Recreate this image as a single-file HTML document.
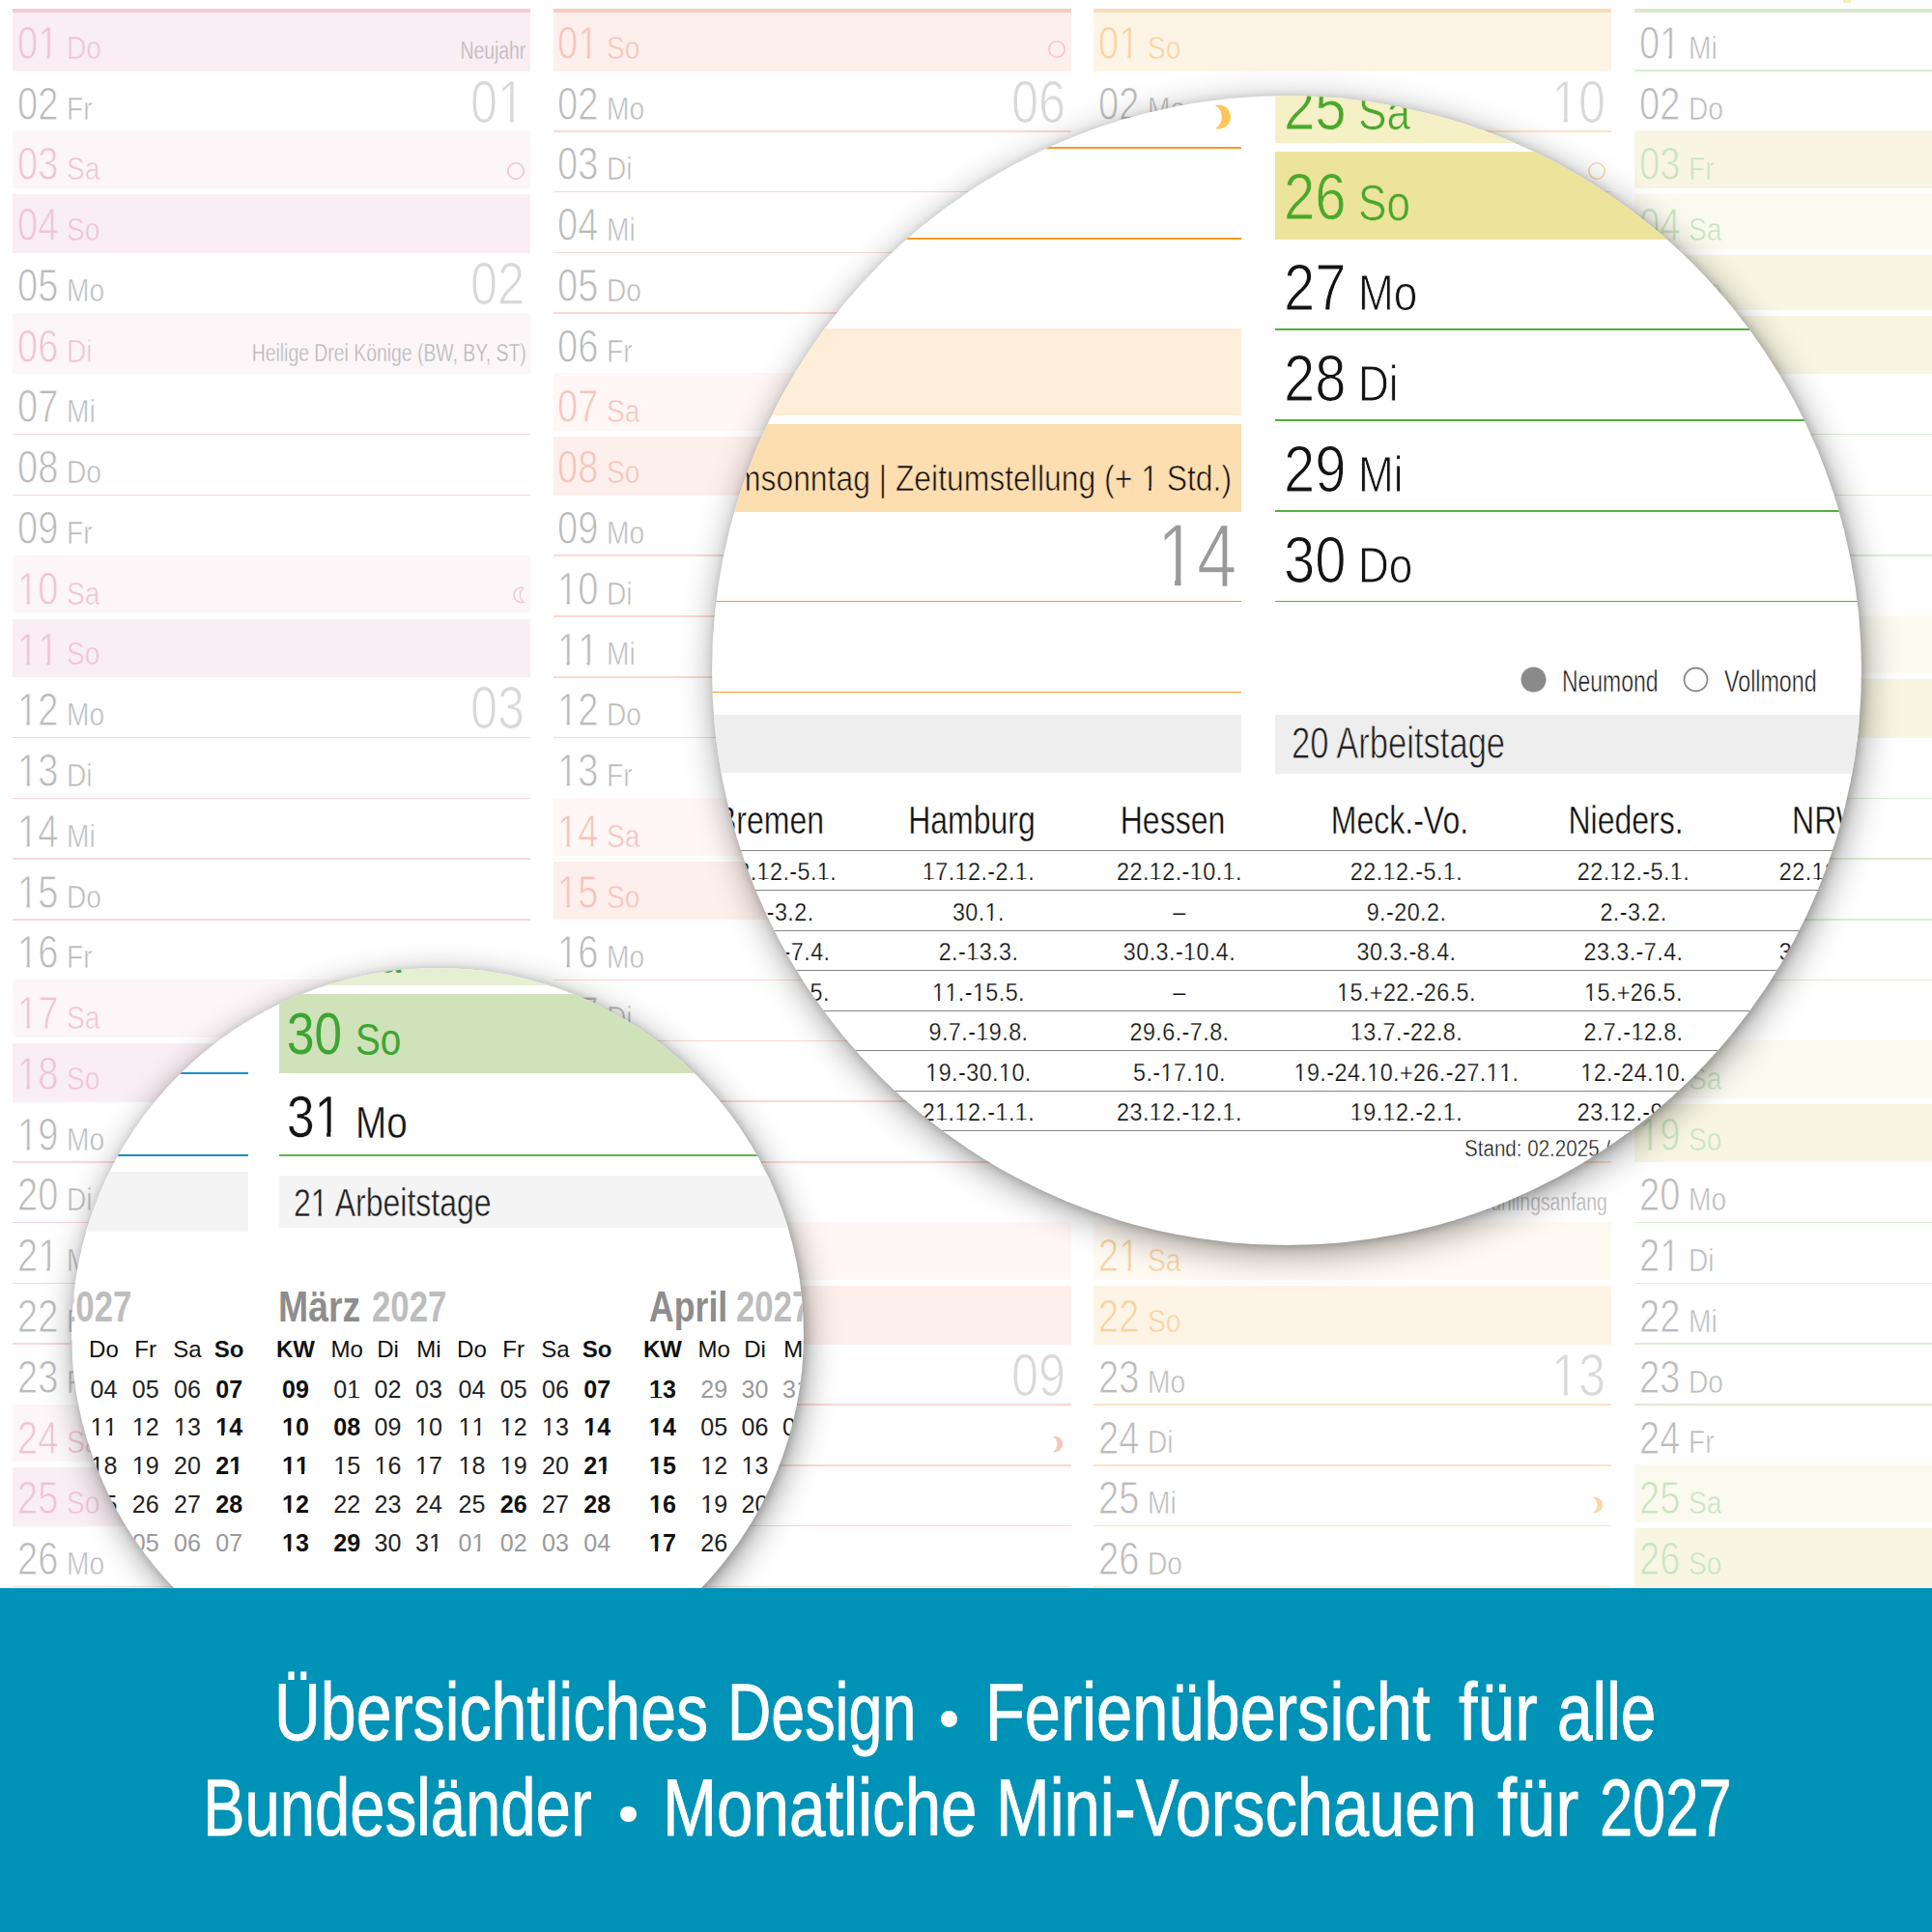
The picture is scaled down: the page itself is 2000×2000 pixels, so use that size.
<!DOCTYPE html><html><head><meta charset="utf-8"><style>
html,body{margin:0;padding:0;}
body{width:2000px;height:2000px;position:relative;overflow:hidden;background:#fff;font-family:"Liberation Sans",sans-serif;}
.t{position:absolute;white-space:nowrap;transform-origin:0 0;}
.z{position:absolute;width:0;height:0;}
.r{position:absolute;}
.one{position:relative;}
.one b{position:absolute;display:block;}
.o1{left:0.05em;width:0.198em;bottom:0.205em;height:0.09em;}
.o2{left:0.337em;width:0.2em;bottom:0.205em;height:0.09em;}
.o1b{left:0.04em;width:0.188em;bottom:0.205em;height:0.115em;}
.o2b{left:0.367em;width:0.19em;bottom:0.205em;height:0.115em;}
.circ{position:absolute;border-radius:50%;overflow:hidden;background:#fff;}
.banner{position:absolute;left:0;top:1644px;width:2000px;height:356px;background:#0092b7;}
</style></head><body>

<div id="base">
<div class="r" style="left:1908.0px;top:0.0px;width:8.0px;height:2.5px;background:#eef2b8;"></div>
<div class="r" style="left:13.0px;top:9.0px;width:536.0px;height:4.0px;background:#f5cad8;"></div>
<div class="r" style="left:13.0px;top:13.0px;width:536.0px;height:60.6px;background:#f9eef3;"></div>
<div class="t" style="left:17.5px;top:20.8px;font-size:47.5px;line-height:47.5px;color:#f0c3d3;font-weight:normal;transform:scaleX(0.8);-webkit-text-stroke:0.9px #f9eef3">0<span class="one">1<b class="o1" style="background:#f9eef3"></b><b class="o2" style="background:#f9eef3"></b></span></div>
<div class="t" style="left:68.5px;top:32.7px;font-size:33.5px;line-height:33.5px;color:#f0c3d3;font-weight:normal;transform:scaleX(0.84);-webkit-text-stroke:0.6px #f9eef3">Do</div>
<div class="z" style="left:544.5px;top:39.5px;"><div class="t" style="right:0;top:0;font-size:25.5px;line-height:25.5px;color:#b5b5b5;font-weight:normal;transform:scaleX(0.76);transform-origin:100% 0;-webkit-text-stroke:0.4px #f9eef3">Neujahr</div></div>
<div class="t" style="left:17.5px;top:83.5px;font-size:47.5px;line-height:47.5px;color:#bbbbbb;font-weight:normal;transform:scaleX(0.8);-webkit-text-stroke:0.9px #ffffff">02</div>
<div class="t" style="left:68.5px;top:95.5px;font-size:33.5px;line-height:33.5px;color:#bbbbbb;font-weight:normal;transform:scaleX(0.84);-webkit-text-stroke:0.6px #ffffff">Fr</div>
<div class="z" style="left:543.0px;top:73.5px;"><div class="t" style="right:0;top:0;font-size:63.0px;line-height:63.0px;color:#d9d9d9;font-weight:normal;transform:scaleX(0.8);transform-origin:100% 0;-webkit-text-stroke:1.2px #ffffff">0<span class="one">1<b class="o1" style="background:#ffffff"></b><b class="o2" style="background:#ffffff"></b></span></div></div>
<div class="r" style="left:13.0px;top:135.3px;width:536.0px;height:59.8px;background:#fcf6f8;"></div>
<div class="t" style="left:17.5px;top:146.3px;font-size:47.5px;line-height:47.5px;color:#f0c3d3;font-weight:normal;transform:scaleX(0.8);-webkit-text-stroke:0.9px #fcf6f8">03</div>
<div class="t" style="left:68.5px;top:158.3px;font-size:33.5px;line-height:33.5px;color:#f0c3d3;font-weight:normal;transform:scaleX(0.84);-webkit-text-stroke:0.6px #fcf6f8">Sa</div>
<svg class="r" style="left:524.0px;top:166.6px" width="20" height="20"><circle cx="10.0" cy="10.0" r="8.2" fill="none" stroke="#efc2d2" stroke-width="1.6"/></svg>
<div class="r" style="left:13.0px;top:201.1px;width:536.0px;height:60.8px;background:#f9eef3;"></div>
<div class="t" style="left:17.5px;top:209.1px;font-size:47.5px;line-height:47.5px;color:#f0c3d3;font-weight:normal;transform:scaleX(0.8);-webkit-text-stroke:0.9px #f9eef3">04</div>
<div class="t" style="left:68.5px;top:221.0px;font-size:33.5px;line-height:33.5px;color:#f0c3d3;font-weight:normal;transform:scaleX(0.84);-webkit-text-stroke:0.6px #f9eef3">So</div>
<div class="t" style="left:17.5px;top:271.8px;font-size:47.5px;line-height:47.5px;color:#bbbbbb;font-weight:normal;transform:scaleX(0.8);-webkit-text-stroke:0.9px #ffffff">05</div>
<div class="t" style="left:68.5px;top:283.8px;font-size:33.5px;line-height:33.5px;color:#bbbbbb;font-weight:normal;transform:scaleX(0.84);-webkit-text-stroke:0.6px #ffffff">Mo</div>
<div class="z" style="left:543.0px;top:261.8px;"><div class="t" style="right:0;top:0;font-size:63.0px;line-height:63.0px;color:#d9d9d9;font-weight:normal;transform:scaleX(0.8);transform-origin:100% 0;-webkit-text-stroke:1.2px #ffffff">02</div></div>
<div class="r" style="left:13.0px;top:323.7px;width:536.0px;height:63.8px;background:#fcf6f8;"></div>
<div class="t" style="left:17.5px;top:334.6px;font-size:47.5px;line-height:47.5px;color:#f0c3d3;font-weight:normal;transform:scaleX(0.8);-webkit-text-stroke:0.9px #fcf6f8">06</div>
<div class="t" style="left:68.5px;top:346.6px;font-size:33.5px;line-height:33.5px;color:#f0c3d3;font-weight:normal;transform:scaleX(0.84);-webkit-text-stroke:0.6px #fcf6f8">Di</div>
<div class="z" style="left:544.5px;top:353.3px;"><div class="t" style="right:0;top:0;font-size:25.5px;line-height:25.5px;color:#b5b5b5;font-weight:normal;transform:scaleX(0.76);transform-origin:100% 0;-webkit-text-stroke:0.4px #fcf6f8">Heilige Drei Könige (BW, BY, ST)</div></div>
<div class="r" style="left:13.0px;top:448.9px;width:536.0px;height:1.6px;background:#f7d6e1;"></div>
<div class="t" style="left:17.5px;top:397.4px;font-size:47.5px;line-height:47.5px;color:#bbbbbb;font-weight:normal;transform:scaleX(0.8);-webkit-text-stroke:0.9px #ffffff">07</div>
<div class="t" style="left:68.5px;top:409.3px;font-size:33.5px;line-height:33.5px;color:#bbbbbb;font-weight:normal;transform:scaleX(0.84);-webkit-text-stroke:0.6px #ffffff">Mi</div>
<div class="r" style="left:13.0px;top:511.7px;width:536.0px;height:1.6px;background:#f7d6e1;"></div>
<div class="t" style="left:17.5px;top:460.1px;font-size:47.5px;line-height:47.5px;color:#bbbbbb;font-weight:normal;transform:scaleX(0.8);-webkit-text-stroke:0.9px #ffffff">08</div>
<div class="t" style="left:68.5px;top:472.1px;font-size:33.5px;line-height:33.5px;color:#bbbbbb;font-weight:normal;transform:scaleX(0.84);-webkit-text-stroke:0.6px #ffffff">Do</div>
<div class="t" style="left:17.5px;top:522.9px;font-size:47.5px;line-height:47.5px;color:#bbbbbb;font-weight:normal;transform:scaleX(0.8);-webkit-text-stroke:0.9px #ffffff">09</div>
<div class="t" style="left:68.5px;top:534.9px;font-size:33.5px;line-height:33.5px;color:#bbbbbb;font-weight:normal;transform:scaleX(0.84);-webkit-text-stroke:0.6px #ffffff">Fr</div>
<div class="r" style="left:13.0px;top:574.7px;width:536.0px;height:59.8px;background:#fcf6f8;"></div>
<div class="t" style="left:17.5px;top:585.7px;font-size:47.5px;line-height:47.5px;color:#f0c3d3;font-weight:normal;transform:scaleX(0.8);-webkit-text-stroke:0.9px #fcf6f8"><span class="one">1<b class="o1" style="background:#fcf6f8"></b><b class="o2" style="background:#fcf6f8"></b></span>0</div>
<div class="t" style="left:68.5px;top:597.7px;font-size:33.5px;line-height:33.5px;color:#f0c3d3;font-weight:normal;transform:scaleX(0.84);-webkit-text-stroke:0.6px #fcf6f8">Sa</div>
<svg class="r" style="left:528.0px;top:606.0px" width="20" height="20" viewBox="0 0 20 20"><path d="M14 2.5 A7.8 7.8 0 1 0 14 17.5 A9.5 9.5 0 0 1 14 2.5 Z" fill="none" stroke="#efc2d2" stroke-width="1.2"/></svg>
<div class="r" style="left:13.0px;top:640.5px;width:536.0px;height:60.8px;background:#f9eef3;"></div>
<div class="t" style="left:17.5px;top:648.5px;font-size:47.5px;line-height:47.5px;color:#f0c3d3;font-weight:normal;transform:scaleX(0.8);-webkit-text-stroke:0.9px #f9eef3"><span class="one">1<b class="o1" style="background:#f9eef3"></b><b class="o2" style="background:#f9eef3"></b></span><span class="one">1<b class="o1" style="background:#f9eef3"></b><b class="o2" style="background:#f9eef3"></b></span></div>
<div class="t" style="left:68.5px;top:660.4px;font-size:33.5px;line-height:33.5px;color:#f0c3d3;font-weight:normal;transform:scaleX(0.84);-webkit-text-stroke:0.6px #f9eef3">So</div>
<div class="r" style="left:13.0px;top:762.7px;width:536.0px;height:1.6px;background:#f7d6e1;"></div>
<div class="t" style="left:17.5px;top:711.2px;font-size:47.5px;line-height:47.5px;color:#bbbbbb;font-weight:normal;transform:scaleX(0.8);-webkit-text-stroke:0.9px #ffffff"><span class="one">1<b class="o1" style="background:#ffffff"></b><b class="o2" style="background:#ffffff"></b></span>2</div>
<div class="t" style="left:68.5px;top:723.2px;font-size:33.5px;line-height:33.5px;color:#bbbbbb;font-weight:normal;transform:scaleX(0.84);-webkit-text-stroke:0.6px #ffffff">Mo</div>
<div class="z" style="left:543.0px;top:701.2px;"><div class="t" style="right:0;top:0;font-size:63.0px;line-height:63.0px;color:#d9d9d9;font-weight:normal;transform:scaleX(0.8);transform-origin:100% 0;-webkit-text-stroke:1.2px #ffffff">03</div></div>
<div class="r" style="left:13.0px;top:825.5px;width:536.0px;height:1.6px;background:#f7d6e1;"></div>
<div class="t" style="left:17.5px;top:774.0px;font-size:47.5px;line-height:47.5px;color:#bbbbbb;font-weight:normal;transform:scaleX(0.8);-webkit-text-stroke:0.9px #ffffff"><span class="one">1<b class="o1" style="background:#ffffff"></b><b class="o2" style="background:#ffffff"></b></span>3</div>
<div class="t" style="left:68.5px;top:786.0px;font-size:33.5px;line-height:33.5px;color:#bbbbbb;font-weight:normal;transform:scaleX(0.84);-webkit-text-stroke:0.6px #ffffff">Di</div>
<div class="r" style="left:13.0px;top:888.3px;width:536.0px;height:1.6px;background:#f7d6e1;"></div>
<div class="t" style="left:17.5px;top:836.8px;font-size:47.5px;line-height:47.5px;color:#bbbbbb;font-weight:normal;transform:scaleX(0.8);-webkit-text-stroke:0.9px #ffffff"><span class="one">1<b class="o1" style="background:#ffffff"></b><b class="o2" style="background:#ffffff"></b></span>4</div>
<div class="t" style="left:68.5px;top:848.7px;font-size:33.5px;line-height:33.5px;color:#bbbbbb;font-weight:normal;transform:scaleX(0.84);-webkit-text-stroke:0.6px #ffffff">Mi</div>
<div class="r" style="left:13.0px;top:951.1px;width:536.0px;height:1.6px;background:#f7d6e1;"></div>
<div class="t" style="left:17.5px;top:899.5px;font-size:47.5px;line-height:47.5px;color:#bbbbbb;font-weight:normal;transform:scaleX(0.8);-webkit-text-stroke:0.9px #ffffff"><span class="one">1<b class="o1" style="background:#ffffff"></b><b class="o2" style="background:#ffffff"></b></span>5</div>
<div class="t" style="left:68.5px;top:911.5px;font-size:33.5px;line-height:33.5px;color:#bbbbbb;font-weight:normal;transform:scaleX(0.84);-webkit-text-stroke:0.6px #ffffff">Do</div>
<div class="t" style="left:17.5px;top:962.3px;font-size:47.5px;line-height:47.5px;color:#bbbbbb;font-weight:normal;transform:scaleX(0.8);-webkit-text-stroke:0.9px #ffffff"><span class="one">1<b class="o1" style="background:#ffffff"></b><b class="o2" style="background:#ffffff"></b></span>6</div>
<div class="t" style="left:68.5px;top:974.3px;font-size:33.5px;line-height:33.5px;color:#bbbbbb;font-weight:normal;transform:scaleX(0.84);-webkit-text-stroke:0.6px #ffffff">Fr</div>
<div class="r" style="left:13.0px;top:1014.1px;width:536.0px;height:59.8px;background:#fcf6f8;"></div>
<div class="t" style="left:17.5px;top:1025.1px;font-size:47.5px;line-height:47.5px;color:#f0c3d3;font-weight:normal;transform:scaleX(0.8);-webkit-text-stroke:0.9px #fcf6f8"><span class="one">1<b class="o1" style="background:#fcf6f8"></b><b class="o2" style="background:#fcf6f8"></b></span>7</div>
<div class="t" style="left:68.5px;top:1037.0px;font-size:33.5px;line-height:33.5px;color:#f0c3d3;font-weight:normal;transform:scaleX(0.84);-webkit-text-stroke:0.6px #fcf6f8">Sa</div>
<div class="r" style="left:13.0px;top:1079.9px;width:536.0px;height:60.8px;background:#f9eef3;"></div>
<div class="t" style="left:17.5px;top:1087.8px;font-size:47.5px;line-height:47.5px;color:#f0c3d3;font-weight:normal;transform:scaleX(0.8);-webkit-text-stroke:0.9px #f9eef3"><span class="one">1<b class="o1" style="background:#f9eef3"></b><b class="o2" style="background:#f9eef3"></b></span>8</div>
<div class="t" style="left:68.5px;top:1099.8px;font-size:33.5px;line-height:33.5px;color:#f0c3d3;font-weight:normal;transform:scaleX(0.84);-webkit-text-stroke:0.6px #f9eef3">So</div>
<svg class="r" style="left:524.0px;top:1108.2px" width="20" height="20"><circle cx="10.0" cy="10.0" r="8.2" fill="#efc2d2"/></svg>
<div class="r" style="left:13.0px;top:1202.1px;width:536.0px;height:1.6px;background:#f7d6e1;"></div>
<div class="t" style="left:17.5px;top:1150.6px;font-size:47.5px;line-height:47.5px;color:#bbbbbb;font-weight:normal;transform:scaleX(0.8);-webkit-text-stroke:0.9px #ffffff"><span class="one">1<b class="o1" style="background:#ffffff"></b><b class="o2" style="background:#ffffff"></b></span>9</div>
<div class="t" style="left:68.5px;top:1162.6px;font-size:33.5px;line-height:33.5px;color:#bbbbbb;font-weight:normal;transform:scaleX(0.84);-webkit-text-stroke:0.6px #ffffff">Mo</div>
<div class="z" style="left:543.0px;top:1140.6px;"><div class="t" style="right:0;top:0;font-size:63.0px;line-height:63.0px;color:#d9d9d9;font-weight:normal;transform:scaleX(0.8);transform-origin:100% 0;-webkit-text-stroke:1.2px #ffffff">04</div></div>
<div class="r" style="left:13.0px;top:1264.9px;width:536.0px;height:1.6px;background:#f7d6e1;"></div>
<div class="t" style="left:17.5px;top:1213.4px;font-size:47.5px;line-height:47.5px;color:#bbbbbb;font-weight:normal;transform:scaleX(0.8);-webkit-text-stroke:0.9px #ffffff">20</div>
<div class="t" style="left:68.5px;top:1225.4px;font-size:33.5px;line-height:33.5px;color:#bbbbbb;font-weight:normal;transform:scaleX(0.84);-webkit-text-stroke:0.6px #ffffff">Di</div>
<div class="r" style="left:13.0px;top:1327.7px;width:536.0px;height:1.6px;background:#f7d6e1;"></div>
<div class="t" style="left:17.5px;top:1276.2px;font-size:47.5px;line-height:47.5px;color:#bbbbbb;font-weight:normal;transform:scaleX(0.8);-webkit-text-stroke:0.9px #ffffff">2<span class="one">1<b class="o1" style="background:#ffffff"></b><b class="o2" style="background:#ffffff"></b></span></div>
<div class="t" style="left:68.5px;top:1288.1px;font-size:33.5px;line-height:33.5px;color:#bbbbbb;font-weight:normal;transform:scaleX(0.84);-webkit-text-stroke:0.6px #ffffff">Mi</div>
<div class="r" style="left:13.0px;top:1390.4px;width:536.0px;height:1.6px;background:#f7d6e1;"></div>
<div class="t" style="left:17.5px;top:1338.9px;font-size:47.5px;line-height:47.5px;color:#bbbbbb;font-weight:normal;transform:scaleX(0.8);-webkit-text-stroke:0.9px #ffffff">22</div>
<div class="t" style="left:68.5px;top:1350.9px;font-size:33.5px;line-height:33.5px;color:#bbbbbb;font-weight:normal;transform:scaleX(0.84);-webkit-text-stroke:0.6px #ffffff">Do</div>
<div class="t" style="left:17.5px;top:1401.7px;font-size:47.5px;line-height:47.5px;color:#bbbbbb;font-weight:normal;transform:scaleX(0.8);-webkit-text-stroke:0.9px #ffffff">23</div>
<div class="t" style="left:68.5px;top:1413.7px;font-size:33.5px;line-height:33.5px;color:#bbbbbb;font-weight:normal;transform:scaleX(0.84);-webkit-text-stroke:0.6px #ffffff">Fr</div>
<div class="r" style="left:13.0px;top:1453.5px;width:536.0px;height:59.8px;background:#fcf6f8;"></div>
<div class="t" style="left:17.5px;top:1464.5px;font-size:47.5px;line-height:47.5px;color:#f0c3d3;font-weight:normal;transform:scaleX(0.8);-webkit-text-stroke:0.9px #fcf6f8">24</div>
<div class="t" style="left:68.5px;top:1476.4px;font-size:33.5px;line-height:33.5px;color:#f0c3d3;font-weight:normal;transform:scaleX(0.84);-webkit-text-stroke:0.6px #fcf6f8">Sa</div>
<div class="r" style="left:13.0px;top:1519.3px;width:536.0px;height:60.8px;background:#f9eef3;"></div>
<div class="t" style="left:17.5px;top:1527.2px;font-size:47.5px;line-height:47.5px;color:#f0c3d3;font-weight:normal;transform:scaleX(0.8);-webkit-text-stroke:0.9px #f9eef3">25</div>
<div class="t" style="left:68.5px;top:1539.2px;font-size:33.5px;line-height:33.5px;color:#f0c3d3;font-weight:normal;transform:scaleX(0.84);-webkit-text-stroke:0.6px #f9eef3">So</div>
<div class="r" style="left:13.0px;top:1641.5px;width:536.0px;height:1.6px;background:#f7d6e1;"></div>
<div class="t" style="left:17.5px;top:1590.0px;font-size:47.5px;line-height:47.5px;color:#bbbbbb;font-weight:normal;transform:scaleX(0.8);-webkit-text-stroke:0.9px #ffffff">26</div>
<div class="t" style="left:68.5px;top:1602.0px;font-size:33.5px;line-height:33.5px;color:#bbbbbb;font-weight:normal;transform:scaleX(0.84);-webkit-text-stroke:0.6px #ffffff">Mo</div>
<div class="z" style="left:543.0px;top:1580.0px;"><div class="t" style="right:0;top:0;font-size:63.0px;line-height:63.0px;color:#d9d9d9;font-weight:normal;transform:scaleX(0.8);transform-origin:100% 0;-webkit-text-stroke:1.2px #ffffff">05</div></div>
<svg class="r" style="left:524.0px;top:1610.3px" width="20" height="20" viewBox="0 0 20 20"><path d="M6 2 A8.2 8.2 0 1 1 6 18 A9.5 9.5 0 0 0 6 2 Z" fill="#efc2d2"/></svg>
<div class="r" style="left:572.7px;top:9.0px;width:536.0px;height:4.0px;background:#f8cac4;"></div>
<div class="r" style="left:572.7px;top:13.0px;width:536.0px;height:60.6px;background:#fdefec;"></div>
<div class="t" style="left:577.2px;top:20.8px;font-size:47.5px;line-height:47.5px;color:#f5c3ba;font-weight:normal;transform:scaleX(0.8);-webkit-text-stroke:0.9px #fdefec">0<span class="one">1<b class="o1" style="background:#fdefec"></b><b class="o2" style="background:#fdefec"></b></span></div>
<div class="t" style="left:628.2px;top:32.7px;font-size:33.5px;line-height:33.5px;color:#f5c3ba;font-weight:normal;transform:scaleX(0.84);-webkit-text-stroke:0.6px #fdefec">So</div>
<svg class="r" style="left:1083.7px;top:41.1px" width="20" height="20"><circle cx="10.0" cy="10.0" r="8.2" fill="none" stroke="#f6c7bc" stroke-width="1.6"/></svg>
<div class="r" style="left:572.7px;top:135.0px;width:536.0px;height:1.6px;background:#fad9d1;"></div>
<div class="t" style="left:577.2px;top:83.5px;font-size:47.5px;line-height:47.5px;color:#bbbbbb;font-weight:normal;transform:scaleX(0.8);-webkit-text-stroke:0.9px #ffffff">02</div>
<div class="t" style="left:628.2px;top:95.5px;font-size:33.5px;line-height:33.5px;color:#bbbbbb;font-weight:normal;transform:scaleX(0.84);-webkit-text-stroke:0.6px #ffffff">Mo</div>
<div class="z" style="left:1102.7px;top:73.5px;"><div class="t" style="right:0;top:0;font-size:63.0px;line-height:63.0px;color:#d9d9d9;font-weight:normal;transform:scaleX(0.8);transform-origin:100% 0;-webkit-text-stroke:1.2px #ffffff">06</div></div>
<div class="r" style="left:572.7px;top:197.8px;width:536.0px;height:1.6px;background:#fad9d1;"></div>
<div class="t" style="left:577.2px;top:146.3px;font-size:47.5px;line-height:47.5px;color:#bbbbbb;font-weight:normal;transform:scaleX(0.8);-webkit-text-stroke:0.9px #ffffff">03</div>
<div class="t" style="left:628.2px;top:158.3px;font-size:33.5px;line-height:33.5px;color:#bbbbbb;font-weight:normal;transform:scaleX(0.84);-webkit-text-stroke:0.6px #ffffff">Di</div>
<div class="r" style="left:572.7px;top:260.6px;width:536.0px;height:1.6px;background:#fad9d1;"></div>
<div class="t" style="left:577.2px;top:209.1px;font-size:47.5px;line-height:47.5px;color:#bbbbbb;font-weight:normal;transform:scaleX(0.8);-webkit-text-stroke:0.9px #ffffff">04</div>
<div class="t" style="left:628.2px;top:221.0px;font-size:33.5px;line-height:33.5px;color:#bbbbbb;font-weight:normal;transform:scaleX(0.84);-webkit-text-stroke:0.6px #ffffff">Mi</div>
<div class="r" style="left:572.7px;top:323.4px;width:536.0px;height:1.6px;background:#fad9d1;"></div>
<div class="t" style="left:577.2px;top:271.8px;font-size:47.5px;line-height:47.5px;color:#bbbbbb;font-weight:normal;transform:scaleX(0.8);-webkit-text-stroke:0.9px #ffffff">05</div>
<div class="t" style="left:628.2px;top:283.8px;font-size:33.5px;line-height:33.5px;color:#bbbbbb;font-weight:normal;transform:scaleX(0.84);-webkit-text-stroke:0.6px #ffffff">Do</div>
<div class="t" style="left:577.2px;top:334.6px;font-size:47.5px;line-height:47.5px;color:#bbbbbb;font-weight:normal;transform:scaleX(0.8);-webkit-text-stroke:0.9px #ffffff">06</div>
<div class="t" style="left:628.2px;top:346.6px;font-size:33.5px;line-height:33.5px;color:#bbbbbb;font-weight:normal;transform:scaleX(0.84);-webkit-text-stroke:0.6px #ffffff">Fr</div>
<div class="r" style="left:572.7px;top:386.4px;width:536.0px;height:59.8px;background:#fef7f5;"></div>
<div class="t" style="left:577.2px;top:397.4px;font-size:47.5px;line-height:47.5px;color:#f5c3ba;font-weight:normal;transform:scaleX(0.8);-webkit-text-stroke:0.9px #fef7f5">07</div>
<div class="t" style="left:628.2px;top:409.3px;font-size:33.5px;line-height:33.5px;color:#f5c3ba;font-weight:normal;transform:scaleX(0.84);-webkit-text-stroke:0.6px #fef7f5">Sa</div>
<div class="r" style="left:572.7px;top:452.2px;width:536.0px;height:60.8px;background:#fdefec;"></div>
<div class="t" style="left:577.2px;top:460.1px;font-size:47.5px;line-height:47.5px;color:#f5c3ba;font-weight:normal;transform:scaleX(0.8);-webkit-text-stroke:0.9px #fdefec">08</div>
<div class="t" style="left:628.2px;top:472.1px;font-size:33.5px;line-height:33.5px;color:#f5c3ba;font-weight:normal;transform:scaleX(0.84);-webkit-text-stroke:0.6px #fdefec">So</div>
<div class="r" style="left:572.7px;top:574.4px;width:536.0px;height:1.6px;background:#fad9d1;"></div>
<div class="t" style="left:577.2px;top:522.9px;font-size:47.5px;line-height:47.5px;color:#bbbbbb;font-weight:normal;transform:scaleX(0.8);-webkit-text-stroke:0.9px #ffffff">09</div>
<div class="t" style="left:628.2px;top:534.9px;font-size:33.5px;line-height:33.5px;color:#bbbbbb;font-weight:normal;transform:scaleX(0.84);-webkit-text-stroke:0.6px #ffffff">Mo</div>
<div class="z" style="left:1102.7px;top:512.9px;"><div class="t" style="right:0;top:0;font-size:63.0px;line-height:63.0px;color:#d9d9d9;font-weight:normal;transform:scaleX(0.8);transform-origin:100% 0;-webkit-text-stroke:1.2px #ffffff">07</div></div>
<svg class="r" style="left:1087.7px;top:543.2px" width="20" height="20" viewBox="0 0 20 20"><path d="M14 2.5 A7.8 7.8 0 1 0 14 17.5 A9.5 9.5 0 0 1 14 2.5 Z" fill="none" stroke="#f6c7bc" stroke-width="1.2"/></svg>
<div class="r" style="left:572.7px;top:637.2px;width:536.0px;height:1.6px;background:#fad9d1;"></div>
<div class="t" style="left:577.2px;top:585.7px;font-size:47.5px;line-height:47.5px;color:#bbbbbb;font-weight:normal;transform:scaleX(0.8);-webkit-text-stroke:0.9px #ffffff"><span class="one">1<b class="o1" style="background:#ffffff"></b><b class="o2" style="background:#ffffff"></b></span>0</div>
<div class="t" style="left:628.2px;top:597.7px;font-size:33.5px;line-height:33.5px;color:#bbbbbb;font-weight:normal;transform:scaleX(0.84);-webkit-text-stroke:0.6px #ffffff">Di</div>
<div class="r" style="left:572.7px;top:700.0px;width:536.0px;height:1.6px;background:#fad9d1;"></div>
<div class="t" style="left:577.2px;top:648.5px;font-size:47.5px;line-height:47.5px;color:#bbbbbb;font-weight:normal;transform:scaleX(0.8);-webkit-text-stroke:0.9px #ffffff"><span class="one">1<b class="o1" style="background:#ffffff"></b><b class="o2" style="background:#ffffff"></b></span><span class="one">1<b class="o1" style="background:#ffffff"></b><b class="o2" style="background:#ffffff"></b></span></div>
<div class="t" style="left:628.2px;top:660.4px;font-size:33.5px;line-height:33.5px;color:#bbbbbb;font-weight:normal;transform:scaleX(0.84);-webkit-text-stroke:0.6px #ffffff">Mi</div>
<div class="r" style="left:572.7px;top:762.7px;width:536.0px;height:1.6px;background:#fad9d1;"></div>
<div class="t" style="left:577.2px;top:711.2px;font-size:47.5px;line-height:47.5px;color:#bbbbbb;font-weight:normal;transform:scaleX(0.8);-webkit-text-stroke:0.9px #ffffff"><span class="one">1<b class="o1" style="background:#ffffff"></b><b class="o2" style="background:#ffffff"></b></span>2</div>
<div class="t" style="left:628.2px;top:723.2px;font-size:33.5px;line-height:33.5px;color:#bbbbbb;font-weight:normal;transform:scaleX(0.84);-webkit-text-stroke:0.6px #ffffff">Do</div>
<div class="t" style="left:577.2px;top:774.0px;font-size:47.5px;line-height:47.5px;color:#bbbbbb;font-weight:normal;transform:scaleX(0.8);-webkit-text-stroke:0.9px #ffffff"><span class="one">1<b class="o1" style="background:#ffffff"></b><b class="o2" style="background:#ffffff"></b></span>3</div>
<div class="t" style="left:628.2px;top:786.0px;font-size:33.5px;line-height:33.5px;color:#bbbbbb;font-weight:normal;transform:scaleX(0.84);-webkit-text-stroke:0.6px #ffffff">Fr</div>
<div class="r" style="left:572.7px;top:825.8px;width:536.0px;height:59.8px;background:#fef7f5;"></div>
<div class="t" style="left:577.2px;top:836.8px;font-size:47.5px;line-height:47.5px;color:#f5c3ba;font-weight:normal;transform:scaleX(0.8);-webkit-text-stroke:0.9px #fef7f5"><span class="one">1<b class="o1" style="background:#fef7f5"></b><b class="o2" style="background:#fef7f5"></b></span>4</div>
<div class="t" style="left:628.2px;top:848.7px;font-size:33.5px;line-height:33.5px;color:#f5c3ba;font-weight:normal;transform:scaleX(0.84);-webkit-text-stroke:0.6px #fef7f5">Sa</div>
<div class="r" style="left:572.7px;top:891.6px;width:536.0px;height:60.8px;background:#fdefec;"></div>
<div class="t" style="left:577.2px;top:899.5px;font-size:47.5px;line-height:47.5px;color:#f5c3ba;font-weight:normal;transform:scaleX(0.8);-webkit-text-stroke:0.9px #fdefec"><span class="one">1<b class="o1" style="background:#fdefec"></b><b class="o2" style="background:#fdefec"></b></span>5</div>
<div class="t" style="left:628.2px;top:911.5px;font-size:33.5px;line-height:33.5px;color:#f5c3ba;font-weight:normal;transform:scaleX(0.84);-webkit-text-stroke:0.6px #fdefec">So</div>
<div class="r" style="left:572.7px;top:1013.8px;width:536.0px;height:1.6px;background:#fad9d1;"></div>
<div class="t" style="left:577.2px;top:962.3px;font-size:47.5px;line-height:47.5px;color:#bbbbbb;font-weight:normal;transform:scaleX(0.8);-webkit-text-stroke:0.9px #ffffff"><span class="one">1<b class="o1" style="background:#ffffff"></b><b class="o2" style="background:#ffffff"></b></span>6</div>
<div class="t" style="left:628.2px;top:974.3px;font-size:33.5px;line-height:33.5px;color:#bbbbbb;font-weight:normal;transform:scaleX(0.84);-webkit-text-stroke:0.6px #ffffff">Mo</div>
<div class="z" style="left:1102.7px;top:952.3px;"><div class="t" style="right:0;top:0;font-size:63.0px;line-height:63.0px;color:#d9d9d9;font-weight:normal;transform:scaleX(0.8);transform-origin:100% 0;-webkit-text-stroke:1.2px #ffffff">08</div></div>
<div class="r" style="left:572.7px;top:1076.6px;width:536.0px;height:1.6px;background:#fad9d1;"></div>
<div class="t" style="left:577.2px;top:1025.1px;font-size:47.5px;line-height:47.5px;color:#bbbbbb;font-weight:normal;transform:scaleX(0.8);-webkit-text-stroke:0.9px #ffffff"><span class="one">1<b class="o1" style="background:#ffffff"></b><b class="o2" style="background:#ffffff"></b></span>7</div>
<div class="t" style="left:628.2px;top:1037.0px;font-size:33.5px;line-height:33.5px;color:#bbbbbb;font-weight:normal;transform:scaleX(0.84);-webkit-text-stroke:0.6px #ffffff">Di</div>
<svg class="r" style="left:1083.7px;top:1045.4px" width="20" height="20"><circle cx="10.0" cy="10.0" r="8.2" fill="#f6c7bc"/></svg>
<div class="r" style="left:572.7px;top:1139.4px;width:536.0px;height:1.6px;background:#fad9d1;"></div>
<div class="t" style="left:577.2px;top:1087.8px;font-size:47.5px;line-height:47.5px;color:#bbbbbb;font-weight:normal;transform:scaleX(0.8);-webkit-text-stroke:0.9px #ffffff"><span class="one">1<b class="o1" style="background:#ffffff"></b><b class="o2" style="background:#ffffff"></b></span>8</div>
<div class="t" style="left:628.2px;top:1099.8px;font-size:33.5px;line-height:33.5px;color:#bbbbbb;font-weight:normal;transform:scaleX(0.84);-webkit-text-stroke:0.6px #ffffff">Mi</div>
<div class="r" style="left:572.7px;top:1202.1px;width:536.0px;height:1.6px;background:#fad9d1;"></div>
<div class="t" style="left:577.2px;top:1150.6px;font-size:47.5px;line-height:47.5px;color:#bbbbbb;font-weight:normal;transform:scaleX(0.8);-webkit-text-stroke:0.9px #ffffff"><span class="one">1<b class="o1" style="background:#ffffff"></b><b class="o2" style="background:#ffffff"></b></span>9</div>
<div class="t" style="left:628.2px;top:1162.6px;font-size:33.5px;line-height:33.5px;color:#bbbbbb;font-weight:normal;transform:scaleX(0.84);-webkit-text-stroke:0.6px #ffffff">Do</div>
<div class="t" style="left:577.2px;top:1213.4px;font-size:47.5px;line-height:47.5px;color:#bbbbbb;font-weight:normal;transform:scaleX(0.8);-webkit-text-stroke:0.9px #ffffff">20</div>
<div class="t" style="left:628.2px;top:1225.4px;font-size:33.5px;line-height:33.5px;color:#bbbbbb;font-weight:normal;transform:scaleX(0.84);-webkit-text-stroke:0.6px #ffffff">Fr</div>
<div class="r" style="left:572.7px;top:1265.2px;width:536.0px;height:59.8px;background:#fef7f5;"></div>
<div class="t" style="left:577.2px;top:1276.2px;font-size:47.5px;line-height:47.5px;color:#f5c3ba;font-weight:normal;transform:scaleX(0.8);-webkit-text-stroke:0.9px #fef7f5">2<span class="one">1<b class="o1" style="background:#fef7f5"></b><b class="o2" style="background:#fef7f5"></b></span></div>
<div class="t" style="left:628.2px;top:1288.1px;font-size:33.5px;line-height:33.5px;color:#f5c3ba;font-weight:normal;transform:scaleX(0.84);-webkit-text-stroke:0.6px #fef7f5">Sa</div>
<div class="r" style="left:572.7px;top:1331.0px;width:536.0px;height:60.8px;background:#fdefec;"></div>
<div class="t" style="left:577.2px;top:1338.9px;font-size:47.5px;line-height:47.5px;color:#f5c3ba;font-weight:normal;transform:scaleX(0.8);-webkit-text-stroke:0.9px #fdefec">22</div>
<div class="t" style="left:628.2px;top:1350.9px;font-size:33.5px;line-height:33.5px;color:#f5c3ba;font-weight:normal;transform:scaleX(0.84);-webkit-text-stroke:0.6px #fdefec">So</div>
<div class="r" style="left:572.7px;top:1453.2px;width:536.0px;height:1.6px;background:#fad9d1;"></div>
<div class="t" style="left:577.2px;top:1401.7px;font-size:47.5px;line-height:47.5px;color:#bbbbbb;font-weight:normal;transform:scaleX(0.8);-webkit-text-stroke:0.9px #ffffff">23</div>
<div class="t" style="left:628.2px;top:1413.7px;font-size:33.5px;line-height:33.5px;color:#bbbbbb;font-weight:normal;transform:scaleX(0.84);-webkit-text-stroke:0.6px #ffffff">Mo</div>
<div class="z" style="left:1102.7px;top:1391.6px;"><div class="t" style="right:0;top:0;font-size:63.0px;line-height:63.0px;color:#d9d9d9;font-weight:normal;transform:scaleX(0.8);transform-origin:100% 0;-webkit-text-stroke:1.2px #ffffff">09</div></div>
<div class="r" style="left:572.7px;top:1516.0px;width:536.0px;height:1.6px;background:#fad9d1;"></div>
<div class="t" style="left:577.2px;top:1464.5px;font-size:47.5px;line-height:47.5px;color:#bbbbbb;font-weight:normal;transform:scaleX(0.8);-webkit-text-stroke:0.9px #ffffff">24</div>
<div class="t" style="left:628.2px;top:1476.4px;font-size:33.5px;line-height:33.5px;color:#bbbbbb;font-weight:normal;transform:scaleX(0.84);-webkit-text-stroke:0.6px #ffffff">Di</div>
<svg class="r" style="left:1083.7px;top:1484.8px" width="20" height="20" viewBox="0 0 20 20"><path d="M6 2 A8.2 8.2 0 1 1 6 18 A9.5 9.5 0 0 0 6 2 Z" fill="#f6c7bc"/></svg>
<div class="r" style="left:572.7px;top:1578.8px;width:536.0px;height:1.6px;background:#fad9d1;"></div>
<div class="t" style="left:577.2px;top:1527.2px;font-size:47.5px;line-height:47.5px;color:#bbbbbb;font-weight:normal;transform:scaleX(0.8);-webkit-text-stroke:0.9px #ffffff">25</div>
<div class="t" style="left:628.2px;top:1539.2px;font-size:33.5px;line-height:33.5px;color:#bbbbbb;font-weight:normal;transform:scaleX(0.84);-webkit-text-stroke:0.6px #ffffff">Mi</div>
<div class="r" style="left:572.7px;top:1641.5px;width:536.0px;height:1.6px;background:#fad9d1;"></div>
<div class="t" style="left:577.2px;top:1590.0px;font-size:47.5px;line-height:47.5px;color:#bbbbbb;font-weight:normal;transform:scaleX(0.8);-webkit-text-stroke:0.9px #ffffff">26</div>
<div class="t" style="left:628.2px;top:1602.0px;font-size:33.5px;line-height:33.5px;color:#bbbbbb;font-weight:normal;transform:scaleX(0.84);-webkit-text-stroke:0.6px #ffffff">Do</div>
<div class="r" style="left:1132.3px;top:9.0px;width:536.0px;height:4.0px;background:#fbdcb8;"></div>
<div class="r" style="left:1132.3px;top:13.0px;width:536.0px;height:60.6px;background:#fef4e6;"></div>
<div class="t" style="left:1136.8px;top:20.8px;font-size:47.5px;line-height:47.5px;color:#f9d29f;font-weight:normal;transform:scaleX(0.8);-webkit-text-stroke:0.9px #fef4e6">0<span class="one">1<b class="o1" style="background:#fef4e6"></b><b class="o2" style="background:#fef4e6"></b></span></div>
<div class="t" style="left:1187.8px;top:32.7px;font-size:33.5px;line-height:33.5px;color:#f9d29f;font-weight:normal;transform:scaleX(0.84);-webkit-text-stroke:0.6px #fef4e6">So</div>
<div class="r" style="left:1132.3px;top:135.0px;width:536.0px;height:1.6px;background:#fce3c6;"></div>
<div class="t" style="left:1136.8px;top:83.5px;font-size:47.5px;line-height:47.5px;color:#bbbbbb;font-weight:normal;transform:scaleX(0.8);-webkit-text-stroke:0.9px #ffffff">02</div>
<div class="t" style="left:1187.8px;top:95.5px;font-size:33.5px;line-height:33.5px;color:#bbbbbb;font-weight:normal;transform:scaleX(0.84);-webkit-text-stroke:0.6px #ffffff">Mo</div>
<div class="z" style="left:1662.3px;top:73.5px;"><div class="t" style="right:0;top:0;font-size:63.0px;line-height:63.0px;color:#d9d9d9;font-weight:normal;transform:scaleX(0.8);transform-origin:100% 0;-webkit-text-stroke:1.2px #ffffff"><span class="one">1<b class="o1" style="background:#ffffff"></b><b class="o2" style="background:#ffffff"></b></span>0</div></div>
<div class="r" style="left:1132.3px;top:197.8px;width:536.0px;height:1.6px;background:#fce3c6;"></div>
<div class="t" style="left:1136.8px;top:146.3px;font-size:47.5px;line-height:47.5px;color:#bbbbbb;font-weight:normal;transform:scaleX(0.8);-webkit-text-stroke:0.9px #ffffff">03</div>
<div class="t" style="left:1187.8px;top:158.3px;font-size:33.5px;line-height:33.5px;color:#bbbbbb;font-weight:normal;transform:scaleX(0.84);-webkit-text-stroke:0.6px #ffffff">Di</div>
<svg class="r" style="left:1643.3px;top:166.6px" width="20" height="20"><circle cx="10.0" cy="10.0" r="8.2" fill="none" stroke="#f9d7a8" stroke-width="1.6"/></svg>
<div class="r" style="left:1132.3px;top:260.6px;width:536.0px;height:1.6px;background:#fce3c6;"></div>
<div class="t" style="left:1136.8px;top:209.1px;font-size:47.5px;line-height:47.5px;color:#bbbbbb;font-weight:normal;transform:scaleX(0.8);-webkit-text-stroke:0.9px #ffffff">04</div>
<div class="t" style="left:1187.8px;top:221.0px;font-size:33.5px;line-height:33.5px;color:#bbbbbb;font-weight:normal;transform:scaleX(0.84);-webkit-text-stroke:0.6px #ffffff">Mi</div>
<div class="r" style="left:1132.3px;top:323.4px;width:536.0px;height:1.6px;background:#fce3c6;"></div>
<div class="t" style="left:1136.8px;top:271.8px;font-size:47.5px;line-height:47.5px;color:#bbbbbb;font-weight:normal;transform:scaleX(0.8);-webkit-text-stroke:0.9px #ffffff">05</div>
<div class="t" style="left:1187.8px;top:283.8px;font-size:33.5px;line-height:33.5px;color:#bbbbbb;font-weight:normal;transform:scaleX(0.84);-webkit-text-stroke:0.6px #ffffff">Do</div>
<div class="t" style="left:1136.8px;top:334.6px;font-size:47.5px;line-height:47.5px;color:#bbbbbb;font-weight:normal;transform:scaleX(0.8);-webkit-text-stroke:0.9px #ffffff">06</div>
<div class="t" style="left:1187.8px;top:346.6px;font-size:33.5px;line-height:33.5px;color:#bbbbbb;font-weight:normal;transform:scaleX(0.84);-webkit-text-stroke:0.6px #ffffff">Fr</div>
<div class="r" style="left:1132.3px;top:386.4px;width:536.0px;height:59.8px;background:#fef9f1;"></div>
<div class="t" style="left:1136.8px;top:397.4px;font-size:47.5px;line-height:47.5px;color:#f9d29f;font-weight:normal;transform:scaleX(0.8);-webkit-text-stroke:0.9px #fef9f1">07</div>
<div class="t" style="left:1187.8px;top:409.3px;font-size:33.5px;line-height:33.5px;color:#f9d29f;font-weight:normal;transform:scaleX(0.84);-webkit-text-stroke:0.6px #fef9f1">Sa</div>
<div class="r" style="left:1132.3px;top:452.2px;width:536.0px;height:60.8px;background:#fef4e6;"></div>
<div class="t" style="left:1136.8px;top:460.1px;font-size:47.5px;line-height:47.5px;color:#f9d29f;font-weight:normal;transform:scaleX(0.8);-webkit-text-stroke:0.9px #fef4e6">08</div>
<div class="t" style="left:1187.8px;top:472.1px;font-size:33.5px;line-height:33.5px;color:#f9d29f;font-weight:normal;transform:scaleX(0.84);-webkit-text-stroke:0.6px #fef4e6">So</div>
<div class="r" style="left:1132.3px;top:574.4px;width:536.0px;height:1.6px;background:#fce3c6;"></div>
<div class="t" style="left:1136.8px;top:522.9px;font-size:47.5px;line-height:47.5px;color:#bbbbbb;font-weight:normal;transform:scaleX(0.8);-webkit-text-stroke:0.9px #ffffff">09</div>
<div class="t" style="left:1187.8px;top:534.9px;font-size:33.5px;line-height:33.5px;color:#bbbbbb;font-weight:normal;transform:scaleX(0.84);-webkit-text-stroke:0.6px #ffffff">Mo</div>
<div class="z" style="left:1662.3px;top:512.9px;"><div class="t" style="right:0;top:0;font-size:63.0px;line-height:63.0px;color:#d9d9d9;font-weight:normal;transform:scaleX(0.8);transform-origin:100% 0;-webkit-text-stroke:1.2px #ffffff"><span class="one">1<b class="o1" style="background:#ffffff"></b><b class="o2" style="background:#ffffff"></b></span><span class="one">1<b class="o1" style="background:#ffffff"></b><b class="o2" style="background:#ffffff"></b></span></div></div>
<div class="r" style="left:1132.3px;top:637.2px;width:536.0px;height:1.6px;background:#fce3c6;"></div>
<div class="t" style="left:1136.8px;top:585.7px;font-size:47.5px;line-height:47.5px;color:#bbbbbb;font-weight:normal;transform:scaleX(0.8);-webkit-text-stroke:0.9px #ffffff"><span class="one">1<b class="o1" style="background:#ffffff"></b><b class="o2" style="background:#ffffff"></b></span>0</div>
<div class="t" style="left:1187.8px;top:597.7px;font-size:33.5px;line-height:33.5px;color:#bbbbbb;font-weight:normal;transform:scaleX(0.84);-webkit-text-stroke:0.6px #ffffff">Di</div>
<div class="r" style="left:1132.3px;top:700.0px;width:536.0px;height:1.6px;background:#fce3c6;"></div>
<div class="t" style="left:1136.8px;top:648.5px;font-size:47.5px;line-height:47.5px;color:#bbbbbb;font-weight:normal;transform:scaleX(0.8);-webkit-text-stroke:0.9px #ffffff"><span class="one">1<b class="o1" style="background:#ffffff"></b><b class="o2" style="background:#ffffff"></b></span><span class="one">1<b class="o1" style="background:#ffffff"></b><b class="o2" style="background:#ffffff"></b></span></div>
<div class="t" style="left:1187.8px;top:660.4px;font-size:33.5px;line-height:33.5px;color:#bbbbbb;font-weight:normal;transform:scaleX(0.84);-webkit-text-stroke:0.6px #ffffff">Mi</div>
<svg class="r" style="left:1647.3px;top:668.8px" width="20" height="20" viewBox="0 0 20 20"><path d="M14 2.5 A7.8 7.8 0 1 0 14 17.5 A9.5 9.5 0 0 1 14 2.5 Z" fill="none" stroke="#f9d7a8" stroke-width="1.2"/></svg>
<div class="r" style="left:1132.3px;top:762.7px;width:536.0px;height:1.6px;background:#fce3c6;"></div>
<div class="t" style="left:1136.8px;top:711.2px;font-size:47.5px;line-height:47.5px;color:#bbbbbb;font-weight:normal;transform:scaleX(0.8);-webkit-text-stroke:0.9px #ffffff"><span class="one">1<b class="o1" style="background:#ffffff"></b><b class="o2" style="background:#ffffff"></b></span>2</div>
<div class="t" style="left:1187.8px;top:723.2px;font-size:33.5px;line-height:33.5px;color:#bbbbbb;font-weight:normal;transform:scaleX(0.84);-webkit-text-stroke:0.6px #ffffff">Do</div>
<div class="t" style="left:1136.8px;top:774.0px;font-size:47.5px;line-height:47.5px;color:#bbbbbb;font-weight:normal;transform:scaleX(0.8);-webkit-text-stroke:0.9px #ffffff"><span class="one">1<b class="o1" style="background:#ffffff"></b><b class="o2" style="background:#ffffff"></b></span>3</div>
<div class="t" style="left:1187.8px;top:786.0px;font-size:33.5px;line-height:33.5px;color:#bbbbbb;font-weight:normal;transform:scaleX(0.84);-webkit-text-stroke:0.6px #ffffff">Fr</div>
<div class="r" style="left:1132.3px;top:825.8px;width:536.0px;height:59.8px;background:#fef9f1;"></div>
<div class="t" style="left:1136.8px;top:836.8px;font-size:47.5px;line-height:47.5px;color:#f9d29f;font-weight:normal;transform:scaleX(0.8);-webkit-text-stroke:0.9px #fef9f1"><span class="one">1<b class="o1" style="background:#fef9f1"></b><b class="o2" style="background:#fef9f1"></b></span>4</div>
<div class="t" style="left:1187.8px;top:848.7px;font-size:33.5px;line-height:33.5px;color:#f9d29f;font-weight:normal;transform:scaleX(0.84);-webkit-text-stroke:0.6px #fef9f1">Sa</div>
<div class="r" style="left:1132.3px;top:891.6px;width:536.0px;height:60.8px;background:#fef4e6;"></div>
<div class="t" style="left:1136.8px;top:899.5px;font-size:47.5px;line-height:47.5px;color:#f9d29f;font-weight:normal;transform:scaleX(0.8);-webkit-text-stroke:0.9px #fef4e6"><span class="one">1<b class="o1" style="background:#fef4e6"></b><b class="o2" style="background:#fef4e6"></b></span>5</div>
<div class="t" style="left:1187.8px;top:911.5px;font-size:33.5px;line-height:33.5px;color:#f9d29f;font-weight:normal;transform:scaleX(0.84);-webkit-text-stroke:0.6px #fef4e6">So</div>
<div class="r" style="left:1132.3px;top:1013.8px;width:536.0px;height:1.6px;background:#fce3c6;"></div>
<div class="t" style="left:1136.8px;top:962.3px;font-size:47.5px;line-height:47.5px;color:#bbbbbb;font-weight:normal;transform:scaleX(0.8);-webkit-text-stroke:0.9px #ffffff"><span class="one">1<b class="o1" style="background:#ffffff"></b><b class="o2" style="background:#ffffff"></b></span>6</div>
<div class="t" style="left:1187.8px;top:974.3px;font-size:33.5px;line-height:33.5px;color:#bbbbbb;font-weight:normal;transform:scaleX(0.84);-webkit-text-stroke:0.6px #ffffff">Mo</div>
<div class="z" style="left:1662.3px;top:952.3px;"><div class="t" style="right:0;top:0;font-size:63.0px;line-height:63.0px;color:#d9d9d9;font-weight:normal;transform:scaleX(0.8);transform-origin:100% 0;-webkit-text-stroke:1.2px #ffffff"><span class="one">1<b class="o1" style="background:#ffffff"></b><b class="o2" style="background:#ffffff"></b></span>2</div></div>
<div class="r" style="left:1132.3px;top:1076.6px;width:536.0px;height:1.6px;background:#fce3c6;"></div>
<div class="t" style="left:1136.8px;top:1025.1px;font-size:47.5px;line-height:47.5px;color:#bbbbbb;font-weight:normal;transform:scaleX(0.8);-webkit-text-stroke:0.9px #ffffff"><span class="one">1<b class="o1" style="background:#ffffff"></b><b class="o2" style="background:#ffffff"></b></span>7</div>
<div class="t" style="left:1187.8px;top:1037.0px;font-size:33.5px;line-height:33.5px;color:#bbbbbb;font-weight:normal;transform:scaleX(0.84);-webkit-text-stroke:0.6px #ffffff">Di</div>
<div class="r" style="left:1132.3px;top:1139.4px;width:536.0px;height:1.6px;background:#fce3c6;"></div>
<div class="t" style="left:1136.8px;top:1087.8px;font-size:47.5px;line-height:47.5px;color:#bbbbbb;font-weight:normal;transform:scaleX(0.8);-webkit-text-stroke:0.9px #ffffff"><span class="one">1<b class="o1" style="background:#ffffff"></b><b class="o2" style="background:#ffffff"></b></span>8</div>
<div class="t" style="left:1187.8px;top:1099.8px;font-size:33.5px;line-height:33.5px;color:#bbbbbb;font-weight:normal;transform:scaleX(0.84);-webkit-text-stroke:0.6px #ffffff">Mi</div>
<div class="r" style="left:1132.3px;top:1202.1px;width:536.0px;height:1.6px;background:#fce3c6;"></div>
<div class="t" style="left:1136.8px;top:1150.6px;font-size:47.5px;line-height:47.5px;color:#bbbbbb;font-weight:normal;transform:scaleX(0.8);-webkit-text-stroke:0.9px #ffffff"><span class="one">1<b class="o1" style="background:#ffffff"></b><b class="o2" style="background:#ffffff"></b></span>9</div>
<div class="t" style="left:1187.8px;top:1162.6px;font-size:33.5px;line-height:33.5px;color:#bbbbbb;font-weight:normal;transform:scaleX(0.84);-webkit-text-stroke:0.6px #ffffff">Do</div>
<svg class="r" style="left:1643.3px;top:1170.9px" width="20" height="20"><circle cx="10.0" cy="10.0" r="8.2" fill="#f9d7a8"/></svg>
<div class="t" style="left:1136.8px;top:1213.4px;font-size:47.5px;line-height:47.5px;color:#bbbbbb;font-weight:normal;transform:scaleX(0.8);-webkit-text-stroke:0.9px #ffffff">20</div>
<div class="t" style="left:1187.8px;top:1225.4px;font-size:33.5px;line-height:33.5px;color:#bbbbbb;font-weight:normal;transform:scaleX(0.84);-webkit-text-stroke:0.6px #ffffff">Fr</div>
<div class="z" style="left:1663.8px;top:1232.1px;"><div class="t" style="right:0;top:0;font-size:25.5px;line-height:25.5px;color:#b5b5b5;font-weight:normal;transform:scaleX(0.76);transform-origin:100% 0;-webkit-text-stroke:0.4px #ffffff">Frühlingsanfang</div></div>
<div class="r" style="left:1132.3px;top:1265.2px;width:536.0px;height:59.8px;background:#fef9f1;"></div>
<div class="t" style="left:1136.8px;top:1276.2px;font-size:47.5px;line-height:47.5px;color:#f9d29f;font-weight:normal;transform:scaleX(0.8);-webkit-text-stroke:0.9px #fef9f1">2<span class="one">1<b class="o1" style="background:#fef9f1"></b><b class="o2" style="background:#fef9f1"></b></span></div>
<div class="t" style="left:1187.8px;top:1288.1px;font-size:33.5px;line-height:33.5px;color:#f9d29f;font-weight:normal;transform:scaleX(0.84);-webkit-text-stroke:0.6px #fef9f1">Sa</div>
<div class="r" style="left:1132.3px;top:1331.0px;width:536.0px;height:60.8px;background:#fef4e6;"></div>
<div class="t" style="left:1136.8px;top:1338.9px;font-size:47.5px;line-height:47.5px;color:#f9d29f;font-weight:normal;transform:scaleX(0.8);-webkit-text-stroke:0.9px #fef4e6">22</div>
<div class="t" style="left:1187.8px;top:1350.9px;font-size:33.5px;line-height:33.5px;color:#f9d29f;font-weight:normal;transform:scaleX(0.84);-webkit-text-stroke:0.6px #fef4e6">So</div>
<div class="r" style="left:1132.3px;top:1453.2px;width:536.0px;height:1.6px;background:#fce3c6;"></div>
<div class="t" style="left:1136.8px;top:1401.7px;font-size:47.5px;line-height:47.5px;color:#bbbbbb;font-weight:normal;transform:scaleX(0.8);-webkit-text-stroke:0.9px #ffffff">23</div>
<div class="t" style="left:1187.8px;top:1413.7px;font-size:33.5px;line-height:33.5px;color:#bbbbbb;font-weight:normal;transform:scaleX(0.84);-webkit-text-stroke:0.6px #ffffff">Mo</div>
<div class="z" style="left:1662.3px;top:1391.6px;"><div class="t" style="right:0;top:0;font-size:63.0px;line-height:63.0px;color:#d9d9d9;font-weight:normal;transform:scaleX(0.8);transform-origin:100% 0;-webkit-text-stroke:1.2px #ffffff"><span class="one">1<b class="o1" style="background:#ffffff"></b><b class="o2" style="background:#ffffff"></b></span>3</div></div>
<div class="r" style="left:1132.3px;top:1516.0px;width:536.0px;height:1.6px;background:#fce3c6;"></div>
<div class="t" style="left:1136.8px;top:1464.5px;font-size:47.5px;line-height:47.5px;color:#bbbbbb;font-weight:normal;transform:scaleX(0.8);-webkit-text-stroke:0.9px #ffffff">24</div>
<div class="t" style="left:1187.8px;top:1476.4px;font-size:33.5px;line-height:33.5px;color:#bbbbbb;font-weight:normal;transform:scaleX(0.84);-webkit-text-stroke:0.6px #ffffff">Di</div>
<div class="r" style="left:1132.3px;top:1578.8px;width:536.0px;height:1.6px;background:#fce3c6;"></div>
<div class="t" style="left:1136.8px;top:1527.2px;font-size:47.5px;line-height:47.5px;color:#bbbbbb;font-weight:normal;transform:scaleX(0.8);-webkit-text-stroke:0.9px #ffffff">25</div>
<div class="t" style="left:1187.8px;top:1539.2px;font-size:33.5px;line-height:33.5px;color:#bbbbbb;font-weight:normal;transform:scaleX(0.84);-webkit-text-stroke:0.6px #ffffff">Mi</div>
<svg class="r" style="left:1643.3px;top:1547.5px" width="20" height="20" viewBox="0 0 20 20"><path d="M6 2 A8.2 8.2 0 1 1 6 18 A9.5 9.5 0 0 0 6 2 Z" fill="#f9d7a8"/></svg>
<div class="r" style="left:1132.3px;top:1641.5px;width:536.0px;height:1.6px;background:#fce3c6;"></div>
<div class="t" style="left:1136.8px;top:1590.0px;font-size:47.5px;line-height:47.5px;color:#bbbbbb;font-weight:normal;transform:scaleX(0.8);-webkit-text-stroke:0.9px #ffffff">26</div>
<div class="t" style="left:1187.8px;top:1602.0px;font-size:33.5px;line-height:33.5px;color:#bbbbbb;font-weight:normal;transform:scaleX(0.84);-webkit-text-stroke:0.6px #ffffff">Do</div>
<div class="r" style="left:1692.0px;top:9.0px;width:536.0px;height:4.0px;background:#d6eacb;"></div>
<div class="r" style="left:1692.0px;top:72.3px;width:536.0px;height:1.6px;background:#dcedd3;"></div>
<div class="t" style="left:1696.5px;top:20.8px;font-size:47.5px;line-height:47.5px;color:#bbbbbb;font-weight:normal;transform:scaleX(0.8);-webkit-text-stroke:0.9px #ffffff">0<span class="one">1<b class="o1" style="background:#ffffff"></b><b class="o2" style="background:#ffffff"></b></span></div>
<div class="t" style="left:1747.5px;top:32.7px;font-size:33.5px;line-height:33.5px;color:#bbbbbb;font-weight:normal;transform:scaleX(0.84);-webkit-text-stroke:0.6px #ffffff">Mi</div>
<div class="z" style="left:2222.0px;top:10.7px;"><div class="t" style="right:0;top:0;font-size:63.0px;line-height:63.0px;color:#d9d9d9;font-weight:normal;transform:scaleX(0.8);transform-origin:100% 0;-webkit-text-stroke:1.2px #ffffff"><span class="one">1<b class="o1" style="background:#ffffff"></b><b class="o2" style="background:#ffffff"></b></span>4</div></div>
<div class="t" style="left:1696.5px;top:83.5px;font-size:47.5px;line-height:47.5px;color:#bbbbbb;font-weight:normal;transform:scaleX(0.8);-webkit-text-stroke:0.9px #ffffff">02</div>
<div class="t" style="left:1747.5px;top:95.5px;font-size:33.5px;line-height:33.5px;color:#bbbbbb;font-weight:normal;transform:scaleX(0.84);-webkit-text-stroke:0.6px #ffffff">Do</div>
<svg class="r" style="left:2203.0px;top:103.8px" width="20" height="20"><circle cx="10.0" cy="10.0" r="8.2" fill="none" stroke="#cfe6c5" stroke-width="1.6"/></svg>
<div class="r" style="left:1692.0px;top:135.3px;width:536.0px;height:59.8px;background:#f8f6e2;"></div>
<div class="t" style="left:1696.5px;top:146.3px;font-size:47.5px;line-height:47.5px;color:#c9e4bf;font-weight:normal;transform:scaleX(0.8);-webkit-text-stroke:0.9px #f8f6e2">03</div>
<div class="t" style="left:1747.5px;top:158.3px;font-size:33.5px;line-height:33.5px;color:#c9e4bf;font-weight:normal;transform:scaleX(0.84);-webkit-text-stroke:0.6px #f8f6e2">Fr</div>
<div class="r" style="left:1692.0px;top:201.1px;width:536.0px;height:56.8px;background:#fbfaef;"></div>
<div class="t" style="left:1696.5px;top:209.1px;font-size:47.5px;line-height:47.5px;color:#c9e4bf;font-weight:normal;transform:scaleX(0.8);-webkit-text-stroke:0.9px #fbfaef">04</div>
<div class="t" style="left:1747.5px;top:221.0px;font-size:33.5px;line-height:33.5px;color:#c9e4bf;font-weight:normal;transform:scaleX(0.84);-webkit-text-stroke:0.6px #fbfaef">Sa</div>
<div class="r" style="left:1692.0px;top:263.9px;width:536.0px;height:56.8px;background:#f8f6e2;"></div>
<div class="t" style="left:1696.5px;top:271.8px;font-size:47.5px;line-height:47.5px;color:#c9e4bf;font-weight:normal;transform:scaleX(0.8);-webkit-text-stroke:0.9px #f8f6e2">05</div>
<div class="t" style="left:1747.5px;top:283.8px;font-size:33.5px;line-height:33.5px;color:#c9e4bf;font-weight:normal;transform:scaleX(0.84);-webkit-text-stroke:0.6px #f8f6e2">So</div>
<div class="r" style="left:1692.0px;top:326.7px;width:536.0px;height:60.8px;background:#f8f6e2;"></div>
<div class="t" style="left:1696.5px;top:334.6px;font-size:47.5px;line-height:47.5px;color:#c9e4bf;font-weight:normal;transform:scaleX(0.8);-webkit-text-stroke:0.9px #f8f6e2">06</div>
<div class="t" style="left:1747.5px;top:346.6px;font-size:33.5px;line-height:33.5px;color:#c9e4bf;font-weight:normal;transform:scaleX(0.84);-webkit-text-stroke:0.6px #f8f6e2">Mo</div>
<div class="z" style="left:2222.0px;top:324.6px;"><div class="t" style="right:0;top:0;font-size:63.0px;line-height:63.0px;color:#d9d9d9;font-weight:normal;transform:scaleX(0.8);transform-origin:100% 0;-webkit-text-stroke:1.2px #f8f6e2"><span class="one">1<b class="o1" style="background:#f8f6e2"></b><b class="o2" style="background:#f8f6e2"></b></span>5</div></div>
<div class="r" style="left:1692.0px;top:448.9px;width:536.0px;height:1.6px;background:#dcedd3;"></div>
<div class="t" style="left:1696.5px;top:397.4px;font-size:47.5px;line-height:47.5px;color:#bbbbbb;font-weight:normal;transform:scaleX(0.8);-webkit-text-stroke:0.9px #ffffff">07</div>
<div class="t" style="left:1747.5px;top:409.3px;font-size:33.5px;line-height:33.5px;color:#bbbbbb;font-weight:normal;transform:scaleX(0.84);-webkit-text-stroke:0.6px #ffffff">Di</div>
<div class="r" style="left:1692.0px;top:511.7px;width:536.0px;height:1.6px;background:#dcedd3;"></div>
<div class="t" style="left:1696.5px;top:460.1px;font-size:47.5px;line-height:47.5px;color:#bbbbbb;font-weight:normal;transform:scaleX(0.8);-webkit-text-stroke:0.9px #ffffff">08</div>
<div class="t" style="left:1747.5px;top:472.1px;font-size:33.5px;line-height:33.5px;color:#bbbbbb;font-weight:normal;transform:scaleX(0.84);-webkit-text-stroke:0.6px #ffffff">Mi</div>
<div class="r" style="left:1692.0px;top:574.4px;width:536.0px;height:1.6px;background:#dcedd3;"></div>
<div class="t" style="left:1696.5px;top:522.9px;font-size:47.5px;line-height:47.5px;color:#bbbbbb;font-weight:normal;transform:scaleX(0.8);-webkit-text-stroke:0.9px #ffffff">09</div>
<div class="t" style="left:1747.5px;top:534.9px;font-size:33.5px;line-height:33.5px;color:#bbbbbb;font-weight:normal;transform:scaleX(0.84);-webkit-text-stroke:0.6px #ffffff">Do</div>
<div class="t" style="left:1696.5px;top:585.7px;font-size:47.5px;line-height:47.5px;color:#bbbbbb;font-weight:normal;transform:scaleX(0.8);-webkit-text-stroke:0.9px #ffffff"><span class="one">1<b class="o1" style="background:#ffffff"></b><b class="o2" style="background:#ffffff"></b></span>0</div>
<div class="t" style="left:1747.5px;top:597.7px;font-size:33.5px;line-height:33.5px;color:#bbbbbb;font-weight:normal;transform:scaleX(0.84);-webkit-text-stroke:0.6px #ffffff">Fr</div>
<svg class="r" style="left:2207.0px;top:606.0px" width="20" height="20" viewBox="0 0 20 20"><path d="M14 2.5 A7.8 7.8 0 1 0 14 17.5 A9.5 9.5 0 0 1 14 2.5 Z" fill="none" stroke="#cfe6c5" stroke-width="1.2"/></svg>
<div class="r" style="left:1692.0px;top:637.5px;width:536.0px;height:59.8px;background:#fbfaef;"></div>
<div class="t" style="left:1696.5px;top:648.5px;font-size:47.5px;line-height:47.5px;color:#c9e4bf;font-weight:normal;transform:scaleX(0.8);-webkit-text-stroke:0.9px #fbfaef"><span class="one">1<b class="o1" style="background:#fbfaef"></b><b class="o2" style="background:#fbfaef"></b></span><span class="one">1<b class="o1" style="background:#fbfaef"></b><b class="o2" style="background:#fbfaef"></b></span></div>
<div class="t" style="left:1747.5px;top:660.4px;font-size:33.5px;line-height:33.5px;color:#c9e4bf;font-weight:normal;transform:scaleX(0.84);-webkit-text-stroke:0.6px #fbfaef">Sa</div>
<div class="r" style="left:1692.0px;top:703.3px;width:536.0px;height:60.8px;background:#f8f6e2;"></div>
<div class="t" style="left:1696.5px;top:711.2px;font-size:47.5px;line-height:47.5px;color:#c9e4bf;font-weight:normal;transform:scaleX(0.8);-webkit-text-stroke:0.9px #f8f6e2"><span class="one">1<b class="o1" style="background:#f8f6e2"></b><b class="o2" style="background:#f8f6e2"></b></span>2</div>
<div class="t" style="left:1747.5px;top:723.2px;font-size:33.5px;line-height:33.5px;color:#c9e4bf;font-weight:normal;transform:scaleX(0.84);-webkit-text-stroke:0.6px #f8f6e2">So</div>
<div class="r" style="left:1692.0px;top:825.5px;width:536.0px;height:1.6px;background:#dcedd3;"></div>
<div class="t" style="left:1696.5px;top:774.0px;font-size:47.5px;line-height:47.5px;color:#bbbbbb;font-weight:normal;transform:scaleX(0.8);-webkit-text-stroke:0.9px #ffffff"><span class="one">1<b class="o1" style="background:#ffffff"></b><b class="o2" style="background:#ffffff"></b></span>3</div>
<div class="t" style="left:1747.5px;top:786.0px;font-size:33.5px;line-height:33.5px;color:#bbbbbb;font-weight:normal;transform:scaleX(0.84);-webkit-text-stroke:0.6px #ffffff">Mo</div>
<div class="z" style="left:2222.0px;top:763.9px;"><div class="t" style="right:0;top:0;font-size:63.0px;line-height:63.0px;color:#d9d9d9;font-weight:normal;transform:scaleX(0.8);transform-origin:100% 0;-webkit-text-stroke:1.2px #ffffff"><span class="one">1<b class="o1" style="background:#ffffff"></b><b class="o2" style="background:#ffffff"></b></span>6</div></div>
<div class="r" style="left:1692.0px;top:888.3px;width:536.0px;height:1.6px;background:#dcedd3;"></div>
<div class="t" style="left:1696.5px;top:836.8px;font-size:47.5px;line-height:47.5px;color:#bbbbbb;font-weight:normal;transform:scaleX(0.8);-webkit-text-stroke:0.9px #ffffff"><span class="one">1<b class="o1" style="background:#ffffff"></b><b class="o2" style="background:#ffffff"></b></span>4</div>
<div class="t" style="left:1747.5px;top:848.7px;font-size:33.5px;line-height:33.5px;color:#bbbbbb;font-weight:normal;transform:scaleX(0.84);-webkit-text-stroke:0.6px #ffffff">Di</div>
<div class="r" style="left:1692.0px;top:951.1px;width:536.0px;height:1.6px;background:#dcedd3;"></div>
<div class="t" style="left:1696.5px;top:899.5px;font-size:47.5px;line-height:47.5px;color:#bbbbbb;font-weight:normal;transform:scaleX(0.8);-webkit-text-stroke:0.9px #ffffff"><span class="one">1<b class="o1" style="background:#ffffff"></b><b class="o2" style="background:#ffffff"></b></span>5</div>
<div class="t" style="left:1747.5px;top:911.5px;font-size:33.5px;line-height:33.5px;color:#bbbbbb;font-weight:normal;transform:scaleX(0.84);-webkit-text-stroke:0.6px #ffffff">Mi</div>
<div class="r" style="left:1692.0px;top:1013.8px;width:536.0px;height:1.6px;background:#dcedd3;"></div>
<div class="t" style="left:1696.5px;top:962.3px;font-size:47.5px;line-height:47.5px;color:#bbbbbb;font-weight:normal;transform:scaleX(0.8);-webkit-text-stroke:0.9px #ffffff"><span class="one">1<b class="o1" style="background:#ffffff"></b><b class="o2" style="background:#ffffff"></b></span>6</div>
<div class="t" style="left:1747.5px;top:974.3px;font-size:33.5px;line-height:33.5px;color:#bbbbbb;font-weight:normal;transform:scaleX(0.84);-webkit-text-stroke:0.6px #ffffff">Do</div>
<div class="t" style="left:1696.5px;top:1025.1px;font-size:47.5px;line-height:47.5px;color:#bbbbbb;font-weight:normal;transform:scaleX(0.8);-webkit-text-stroke:0.9px #ffffff"><span class="one">1<b class="o1" style="background:#ffffff"></b><b class="o2" style="background:#ffffff"></b></span>7</div>
<div class="t" style="left:1747.5px;top:1037.0px;font-size:33.5px;line-height:33.5px;color:#bbbbbb;font-weight:normal;transform:scaleX(0.84);-webkit-text-stroke:0.6px #ffffff">Fr</div>
<svg class="r" style="left:2203.0px;top:1045.4px" width="20" height="20"><circle cx="10.0" cy="10.0" r="8.2" fill="#cfe6c5"/></svg>
<div class="r" style="left:1692.0px;top:1076.9px;width:536.0px;height:59.8px;background:#fbfaef;"></div>
<div class="t" style="left:1696.5px;top:1087.8px;font-size:47.5px;line-height:47.5px;color:#c9e4bf;font-weight:normal;transform:scaleX(0.8);-webkit-text-stroke:0.9px #fbfaef"><span class="one">1<b class="o1" style="background:#fbfaef"></b><b class="o2" style="background:#fbfaef"></b></span>8</div>
<div class="t" style="left:1747.5px;top:1099.8px;font-size:33.5px;line-height:33.5px;color:#c9e4bf;font-weight:normal;transform:scaleX(0.84);-webkit-text-stroke:0.6px #fbfaef">Sa</div>
<div class="r" style="left:1692.0px;top:1142.7px;width:536.0px;height:60.8px;background:#f8f6e2;"></div>
<div class="t" style="left:1696.5px;top:1150.6px;font-size:47.5px;line-height:47.5px;color:#c9e4bf;font-weight:normal;transform:scaleX(0.8);-webkit-text-stroke:0.9px #f8f6e2"><span class="one">1<b class="o1" style="background:#f8f6e2"></b><b class="o2" style="background:#f8f6e2"></b></span>9</div>
<div class="t" style="left:1747.5px;top:1162.6px;font-size:33.5px;line-height:33.5px;color:#c9e4bf;font-weight:normal;transform:scaleX(0.84);-webkit-text-stroke:0.6px #f8f6e2">So</div>
<div class="r" style="left:1692.0px;top:1264.9px;width:536.0px;height:1.6px;background:#dcedd3;"></div>
<div class="t" style="left:1696.5px;top:1213.4px;font-size:47.5px;line-height:47.5px;color:#bbbbbb;font-weight:normal;transform:scaleX(0.8);-webkit-text-stroke:0.9px #ffffff">20</div>
<div class="t" style="left:1747.5px;top:1225.4px;font-size:33.5px;line-height:33.5px;color:#bbbbbb;font-weight:normal;transform:scaleX(0.84);-webkit-text-stroke:0.6px #ffffff">Mo</div>
<div class="z" style="left:2222.0px;top:1203.3px;"><div class="t" style="right:0;top:0;font-size:63.0px;line-height:63.0px;color:#d9d9d9;font-weight:normal;transform:scaleX(0.8);transform-origin:100% 0;-webkit-text-stroke:1.2px #ffffff"><span class="one">1<b class="o1" style="background:#ffffff"></b><b class="o2" style="background:#ffffff"></b></span>7</div></div>
<div class="r" style="left:1692.0px;top:1327.7px;width:536.0px;height:1.6px;background:#dcedd3;"></div>
<div class="t" style="left:1696.5px;top:1276.2px;font-size:47.5px;line-height:47.5px;color:#bbbbbb;font-weight:normal;transform:scaleX(0.8);-webkit-text-stroke:0.9px #ffffff">2<span class="one">1<b class="o1" style="background:#ffffff"></b><b class="o2" style="background:#ffffff"></b></span></div>
<div class="t" style="left:1747.5px;top:1288.1px;font-size:33.5px;line-height:33.5px;color:#bbbbbb;font-weight:normal;transform:scaleX(0.84);-webkit-text-stroke:0.6px #ffffff">Di</div>
<div class="r" style="left:1692.0px;top:1390.4px;width:536.0px;height:1.6px;background:#dcedd3;"></div>
<div class="t" style="left:1696.5px;top:1338.9px;font-size:47.5px;line-height:47.5px;color:#bbbbbb;font-weight:normal;transform:scaleX(0.8);-webkit-text-stroke:0.9px #ffffff">22</div>
<div class="t" style="left:1747.5px;top:1350.9px;font-size:33.5px;line-height:33.5px;color:#bbbbbb;font-weight:normal;transform:scaleX(0.84);-webkit-text-stroke:0.6px #ffffff">Mi</div>
<div class="r" style="left:1692.0px;top:1453.2px;width:536.0px;height:1.6px;background:#dcedd3;"></div>
<div class="t" style="left:1696.5px;top:1401.7px;font-size:47.5px;line-height:47.5px;color:#bbbbbb;font-weight:normal;transform:scaleX(0.8);-webkit-text-stroke:0.9px #ffffff">23</div>
<div class="t" style="left:1747.5px;top:1413.7px;font-size:33.5px;line-height:33.5px;color:#bbbbbb;font-weight:normal;transform:scaleX(0.84);-webkit-text-stroke:0.6px #ffffff">Do</div>
<div class="t" style="left:1696.5px;top:1464.5px;font-size:47.5px;line-height:47.5px;color:#bbbbbb;font-weight:normal;transform:scaleX(0.8);-webkit-text-stroke:0.9px #ffffff">24</div>
<div class="t" style="left:1747.5px;top:1476.4px;font-size:33.5px;line-height:33.5px;color:#bbbbbb;font-weight:normal;transform:scaleX(0.84);-webkit-text-stroke:0.6px #ffffff">Fr</div>
<svg class="r" style="left:2203.0px;top:1484.8px" width="20" height="20" viewBox="0 0 20 20"><path d="M6 2 A8.2 8.2 0 1 1 6 18 A9.5 9.5 0 0 0 6 2 Z" fill="#cfe6c5"/></svg>
<div class="r" style="left:1692.0px;top:1516.3px;width:536.0px;height:59.8px;background:#fbfaef;"></div>
<div class="t" style="left:1696.5px;top:1527.2px;font-size:47.5px;line-height:47.5px;color:#c9e4bf;font-weight:normal;transform:scaleX(0.8);-webkit-text-stroke:0.9px #fbfaef">25</div>
<div class="t" style="left:1747.5px;top:1539.2px;font-size:33.5px;line-height:33.5px;color:#c9e4bf;font-weight:normal;transform:scaleX(0.84);-webkit-text-stroke:0.6px #fbfaef">Sa</div>
<div class="r" style="left:1692.0px;top:1582.0px;width:536.0px;height:60.8px;background:#f8f6e2;"></div>
<div class="t" style="left:1696.5px;top:1590.0px;font-size:47.5px;line-height:47.5px;color:#c9e4bf;font-weight:normal;transform:scaleX(0.8);-webkit-text-stroke:0.9px #f8f6e2">26</div>
<div class="t" style="left:1747.5px;top:1602.0px;font-size:33.5px;line-height:33.5px;color:#c9e4bf;font-weight:normal;transform:scaleX(0.84);-webkit-text-stroke:0.6px #f8f6e2">So</div>
</div>
<div class="circ" style="left:737px;top:98.5px;width:1190px;height:1190px;box-shadow:2px 2px 10px 0px rgba(0,0,0,0.20), 3px 8px 34px 2px rgba(0,0,0,0.36)">
<div class="r" style="left:-256.0px;top:-228.0px;width:804.0px;height:1.7px;background:#f29a28;"></div>
<div class="r" style="left:-256.0px;top:-134.1px;width:804.0px;height:1.7px;background:#f29a28;"></div>
<div class="r" style="left:-256.0px;top:-40.2px;width:804.0px;height:1.7px;background:#f29a28;"></div>
<div class="r" style="left:-256.0px;top:53.7px;width:804.0px;height:1.7px;background:#f29a28;"></div>
<div class="r" style="left:-256.0px;top:147.6px;width:804.0px;height:1.7px;background:#f29a28;"></div>
<div class="r" style="left:-256.0px;top:617.1px;width:804.0px;height:1.7px;background:#f29a28;"></div>
<div class="r" style="left:-256.0px;top:523.2px;width:804.0px;height:1.7px;background:#f29a28;"></div>
<div class="r" style="left:-256.0px;top:241.5px;width:804.0px;height:89.5px;background:#feeed7;"></div>
<div class="r" style="left:-256.0px;top:340.5px;width:804.0px;height:90.5px;background:#fddeb0;"></div>
<div class="r" style="left:-256.0px;top:641.0px;width:804.0px;height:60.0px;background:#eeeeee;"></div>
<div class="z" style="left:538.0px;top:378.0px;"><div class="t" style="right:0;top:0;font-size:37.5px;line-height:37.5px;color:#151515;font-weight:normal;transform:scaleX(0.85);transform-origin:100% 0;-webkit-text-stroke:0.7px #fddeb0">Palmsonntag | Zeitumstellung (+ <span class="one">1<b class="o1" style="background:#fddeb0"></b><b class="o2" style="background:#fddeb0"></b></span> Std.)</div></div>
<div class="z" style="left:543.0px;top:430.7px;"><div class="t" style="right:0;top:0;font-size:93.0px;line-height:93.0px;color:#9a9a9a;font-weight:normal;transform:scaleX(0.8);transform-origin:100% 0;-webkit-text-stroke:1.6px #fff"><span class="one">1<b class="o1" style="background:#fff"></b><b class="o2" style="background:#fff"></b></span>4</div></div>
<svg class="r" style="left:517.0px;top:7.5px" width="24" height="30" viewBox="0 0 24 30"><path d="M4 3 A12.5 12.5 0 1 1 4 27 A14 14 0 0 0 4 3 Z" fill="#fdc65a"/></svg>
<div class="r" style="left:583.0px;top:-37.4px;width:804.0px;height:86.9px;background:#f5f0c6;"></div>
<div class="r" style="left:583.0px;top:58.5px;width:804.0px;height:91.0px;background:#ede49b;"></div>
<div class="r" style="left:583.0px;top:241.5px;width:804.0px;height:1.8px;background:#55ad3c;"></div>
<div class="r" style="left:583.0px;top:335.4px;width:804.0px;height:1.8px;background:#55ad3c;"></div>
<div class="r" style="left:583.0px;top:429.3px;width:804.0px;height:1.8px;background:#55ad3c;"></div>
<div class="r" style="left:583.0px;top:523.2px;width:804.0px;height:1.8px;background:#55ad3c;"></div>
<div class="r" style="left:583.0px;top:641.5px;width:804.0px;height:60.5px;background:#eeeeee;"></div>
<div class="t" style="left:592.0px;top:-116.9px;font-size:69.0px;line-height:69.0px;color:#141414;font-weight:normal;transform:scaleX(0.84);-webkit-text-stroke:1.2px #ffffff">24</div>
<div class="t" style="left:669.0px;top:-102.8px;font-size:52.5px;line-height:52.5px;color:#141414;font-weight:normal;transform:scaleX(0.84);-webkit-text-stroke:0.96px #ffffff">Fr</div>
<div class="t" style="left:592.0px;top:-23.0px;font-size:69.0px;line-height:69.0px;color:#4aa82c;font-weight:normal;transform:scaleX(0.84);-webkit-text-stroke:0.8px #f5f0c6">25</div>
<div class="t" style="left:669.0px;top:-8.9px;font-size:52.5px;line-height:52.5px;color:#4aa82c;font-weight:normal;transform:scaleX(0.84);-webkit-text-stroke:0.64px #f5f0c6">Sa</div>
<div class="t" style="left:592.0px;top:70.9px;font-size:69.0px;line-height:69.0px;color:#4aa82c;font-weight:normal;transform:scaleX(0.84);-webkit-text-stroke:0.8px #ede49b">26</div>
<div class="t" style="left:669.0px;top:85.0px;font-size:52.5px;line-height:52.5px;color:#4aa82c;font-weight:normal;transform:scaleX(0.84);-webkit-text-stroke:0.64px #ede49b">So</div>
<div class="t" style="left:592.0px;top:164.8px;font-size:69.0px;line-height:69.0px;color:#141414;font-weight:normal;transform:scaleX(0.84);-webkit-text-stroke:1.2px #ffffff">27</div>
<div class="t" style="left:669.0px;top:178.9px;font-size:52.5px;line-height:52.5px;color:#141414;font-weight:normal;transform:scaleX(0.84);-webkit-text-stroke:0.96px #ffffff">Mo</div>
<div class="t" style="left:592.0px;top:258.7px;font-size:69.0px;line-height:69.0px;color:#141414;font-weight:normal;transform:scaleX(0.84);-webkit-text-stroke:1.2px #ffffff">28</div>
<div class="t" style="left:669.0px;top:272.8px;font-size:52.5px;line-height:52.5px;color:#141414;font-weight:normal;transform:scaleX(0.84);-webkit-text-stroke:0.96px #ffffff">Di</div>
<div class="t" style="left:592.0px;top:352.6px;font-size:69.0px;line-height:69.0px;color:#141414;font-weight:normal;transform:scaleX(0.84);-webkit-text-stroke:1.2px #ffffff">29</div>
<div class="t" style="left:669.0px;top:366.7px;font-size:52.5px;line-height:52.5px;color:#141414;font-weight:normal;transform:scaleX(0.84);-webkit-text-stroke:0.96px #ffffff">Mi</div>
<div class="t" style="left:592.0px;top:446.5px;font-size:69.0px;line-height:69.0px;color:#141414;font-weight:normal;transform:scaleX(0.84);-webkit-text-stroke:1.2px #ffffff">30</div>
<div class="t" style="left:669.0px;top:460.6px;font-size:52.5px;line-height:52.5px;color:#141414;font-weight:normal;transform:scaleX(0.84);-webkit-text-stroke:0.96px #ffffff">Do</div>
<svg class="r" style="left:837.0px;top:591.5px" width="27" height="27"><circle cx="13.5" cy="13.5" r="13" fill="#8a8a8a"/></svg>
<div class="t" style="left:880.0px;top:591.0px;font-size:31.0px;line-height:31.0px;color:#1a1a1a;font-weight:normal;transform:scaleX(0.74);-webkit-text-stroke:0.5px #fff">Neumond</div>
<svg class="r" style="left:1005.0px;top:591.5px" width="27" height="27"><circle cx="13.5" cy="13.5" r="12" fill="none" stroke="#8a8a8a" stroke-width="1.8"/></svg>
<div class="t" style="left:1048.0px;top:591.0px;font-size:31.0px;line-height:31.0px;color:#1a1a1a;font-weight:normal;transform:scaleX(0.75);-webkit-text-stroke:0.5px #fff">Vollmond</div>
<div class="t" style="left:600.0px;top:648.2px;font-size:45.5px;line-height:45.5px;color:#1e1e1e;font-weight:normal;transform:scaleX(0.76);-webkit-text-stroke:0.8px #eeeeee">20 Arbeitstage</div>
<div class="z" style="left:60.0px;top:730.6px;"><div class="t" style="left:0;top:0;font-size:40.0px;line-height:40.0px;color:#111;font-weight:normal;transform:scaleX(0.8) translateX(-50%);-webkit-text-stroke:0.4px #fff">Bremen</div></div>
<div class="z" style="left:269.0px;top:730.6px;"><div class="t" style="left:0;top:0;font-size:40.0px;line-height:40.0px;color:#111;font-weight:normal;transform:scaleX(0.8) translateX(-50%);-webkit-text-stroke:0.4px #fff">Hamburg</div></div>
<div class="z" style="left:477.0px;top:730.6px;"><div class="t" style="left:0;top:0;font-size:40.0px;line-height:40.0px;color:#111;font-weight:normal;transform:scaleX(0.8) translateX(-50%);-webkit-text-stroke:0.4px #fff">Hessen</div></div>
<div class="z" style="left:712.0px;top:730.6px;"><div class="t" style="left:0;top:0;font-size:40.0px;line-height:40.0px;color:#111;font-weight:normal;transform:scaleX(0.8) translateX(-50%);-webkit-text-stroke:0.4px #fff">Meck.-Vo.</div></div>
<div class="z" style="left:946.0px;top:730.6px;"><div class="t" style="left:0;top:0;font-size:40.0px;line-height:40.0px;color:#111;font-weight:normal;transform:scaleX(0.8) translateX(-50%);-webkit-text-stroke:0.4px #fff">Nieders.</div></div>
<div class="z" style="left:1156.0px;top:730.6px;"><div class="t" style="left:0;top:0;font-size:40.0px;line-height:40.0px;color:#111;font-weight:normal;transform:scaleX(0.8) translateX(-50%);-webkit-text-stroke:0.4px #fff">NRW</div></div>
<div class="r" style="left:0.0px;top:781.1px;width:1190.0px;height:1.3px;background:#858585;"></div>
<div class="r" style="left:0.0px;top:822.6px;width:1190.0px;height:1.3px;background:#858585;"></div>
<div class="r" style="left:0.0px;top:864.1px;width:1190.0px;height:1.3px;background:#858585;"></div>
<div class="r" style="left:0.0px;top:905.6px;width:1190.0px;height:1.3px;background:#858585;"></div>
<div class="r" style="left:0.0px;top:947.1px;width:1190.0px;height:1.3px;background:#858585;"></div>
<div class="r" style="left:0.0px;top:988.6px;width:1190.0px;height:1.3px;background:#858585;"></div>
<div class="r" style="left:0.0px;top:1030.1px;width:1190.0px;height:1.3px;background:#858585;"></div>
<div class="r" style="left:0.0px;top:1071.6px;width:1190.0px;height:1.3px;background:#858585;"></div>
<div class="z" style="left:71.0px;top:790.8px;"><div class="t" style="left:0;top:0;font-size:26.5px;line-height:26.5px;color:#141414;font-weight:normal;transform:scaleX(0.88) translateX(-50%);letter-spacing:0.5px;-webkit-text-stroke:0.25px #fff">22.<span class="one">1<b class="o1" style="background:#fff"></b><b class="o2" style="background:#fff"></b></span>2.-5.<span class="one">1<b class="o1" style="background:#fff"></b><b class="o2" style="background:#fff"></b></span>.</div></div>
<div class="z" style="left:276.0px;top:790.8px;"><div class="t" style="left:0;top:0;font-size:26.5px;line-height:26.5px;color:#141414;font-weight:normal;transform:scaleX(0.88) translateX(-50%);letter-spacing:0.5px;-webkit-text-stroke:0.25px #fff"><span class="one">1<b class="o1" style="background:#fff"></b><b class="o2" style="background:#fff"></b></span>7.<span class="one">1<b class="o1" style="background:#fff"></b><b class="o2" style="background:#fff"></b></span>2.-2.<span class="one">1<b class="o1" style="background:#fff"></b><b class="o2" style="background:#fff"></b></span>.</div></div>
<div class="z" style="left:484.0px;top:790.8px;"><div class="t" style="left:0;top:0;font-size:26.5px;line-height:26.5px;color:#141414;font-weight:normal;transform:scaleX(0.88) translateX(-50%);letter-spacing:0.5px;-webkit-text-stroke:0.25px #fff">22.<span class="one">1<b class="o1" style="background:#fff"></b><b class="o2" style="background:#fff"></b></span>2.-<span class="one">1<b class="o1" style="background:#fff"></b><b class="o2" style="background:#fff"></b></span>0.<span class="one">1<b class="o1" style="background:#fff"></b><b class="o2" style="background:#fff"></b></span>.</div></div>
<div class="z" style="left:719.0px;top:790.8px;"><div class="t" style="left:0;top:0;font-size:26.5px;line-height:26.5px;color:#141414;font-weight:normal;transform:scaleX(0.88) translateX(-50%);letter-spacing:0.5px;-webkit-text-stroke:0.25px #fff">22.<span class="one">1<b class="o1" style="background:#fff"></b><b class="o2" style="background:#fff"></b></span>2.-5.<span class="one">1<b class="o1" style="background:#fff"></b><b class="o2" style="background:#fff"></b></span>.</div></div>
<div class="z" style="left:954.0px;top:790.8px;"><div class="t" style="left:0;top:0;font-size:26.5px;line-height:26.5px;color:#141414;font-weight:normal;transform:scaleX(0.88) translateX(-50%);letter-spacing:0.5px;-webkit-text-stroke:0.25px #fff">22.<span class="one">1<b class="o1" style="background:#fff"></b><b class="o2" style="background:#fff"></b></span>2.-5.<span class="one">1<b class="o1" style="background:#fff"></b><b class="o2" style="background:#fff"></b></span>.</div></div>
<div class="z" style="left:1163.0px;top:790.8px;"><div class="t" style="left:0;top:0;font-size:26.5px;line-height:26.5px;color:#141414;font-weight:normal;transform:scaleX(0.88) translateX(-50%);letter-spacing:0.5px;-webkit-text-stroke:0.25px #fff">22.<span class="one">1<b class="o1" style="background:#fff"></b><b class="o2" style="background:#fff"></b></span>2.-6.<span class="one">1<b class="o1" style="background:#fff"></b><b class="o2" style="background:#fff"></b></span>.</div></div>
<div class="z" style="left:71.0px;top:832.3px;"><div class="t" style="left:0;top:0;font-size:26.5px;line-height:26.5px;color:#141414;font-weight:normal;transform:scaleX(0.88) translateX(-50%);letter-spacing:0.5px;-webkit-text-stroke:0.25px #fff">2.-3.2.</div></div>
<div class="z" style="left:276.0px;top:832.3px;"><div class="t" style="left:0;top:0;font-size:26.5px;line-height:26.5px;color:#141414;font-weight:normal;transform:scaleX(0.88) translateX(-50%);letter-spacing:0.5px;-webkit-text-stroke:0.25px #fff">30.<span class="one">1<b class="o1" style="background:#fff"></b><b class="o2" style="background:#fff"></b></span>.</div></div>
<div class="z" style="left:484.0px;top:832.3px;"><div class="t" style="left:0;top:0;font-size:26.5px;line-height:26.5px;color:#141414;font-weight:normal;transform:scaleX(0.88) translateX(-50%);letter-spacing:0.5px;-webkit-text-stroke:0.25px #fff">–</div></div>
<div class="z" style="left:719.0px;top:832.3px;"><div class="t" style="left:0;top:0;font-size:26.5px;line-height:26.5px;color:#141414;font-weight:normal;transform:scaleX(0.88) translateX(-50%);letter-spacing:0.5px;-webkit-text-stroke:0.25px #fff">9.-20.2.</div></div>
<div class="z" style="left:954.0px;top:832.3px;"><div class="t" style="left:0;top:0;font-size:26.5px;line-height:26.5px;color:#141414;font-weight:normal;transform:scaleX(0.88) translateX(-50%);letter-spacing:0.5px;-webkit-text-stroke:0.25px #fff">2.-3.2.</div></div>
<div class="z" style="left:1163.0px;top:832.3px;"><div class="t" style="left:0;top:0;font-size:26.5px;line-height:26.5px;color:#141414;font-weight:normal;transform:scaleX(0.88) translateX(-50%);letter-spacing:0.5px;-webkit-text-stroke:0.25px #fff">–</div></div>
<div class="z" style="left:71.0px;top:873.8px;"><div class="t" style="left:0;top:0;font-size:26.5px;line-height:26.5px;color:#141414;font-weight:normal;transform:scaleX(0.88) translateX(-50%);letter-spacing:0.5px;-webkit-text-stroke:0.25px #fff">23.3.-7.4.</div></div>
<div class="z" style="left:276.0px;top:873.8px;"><div class="t" style="left:0;top:0;font-size:26.5px;line-height:26.5px;color:#141414;font-weight:normal;transform:scaleX(0.88) translateX(-50%);letter-spacing:0.5px;-webkit-text-stroke:0.25px #fff">2.-<span class="one">1<b class="o1" style="background:#fff"></b><b class="o2" style="background:#fff"></b></span>3.3.</div></div>
<div class="z" style="left:484.0px;top:873.8px;"><div class="t" style="left:0;top:0;font-size:26.5px;line-height:26.5px;color:#141414;font-weight:normal;transform:scaleX(0.88) translateX(-50%);letter-spacing:0.5px;-webkit-text-stroke:0.25px #fff">30.3.-<span class="one">1<b class="o1" style="background:#fff"></b><b class="o2" style="background:#fff"></b></span>0.4.</div></div>
<div class="z" style="left:719.0px;top:873.8px;"><div class="t" style="left:0;top:0;font-size:26.5px;line-height:26.5px;color:#141414;font-weight:normal;transform:scaleX(0.88) translateX(-50%);letter-spacing:0.5px;-webkit-text-stroke:0.25px #fff">30.3.-8.4.</div></div>
<div class="z" style="left:954.0px;top:873.8px;"><div class="t" style="left:0;top:0;font-size:26.5px;line-height:26.5px;color:#141414;font-weight:normal;transform:scaleX(0.88) translateX(-50%);letter-spacing:0.5px;-webkit-text-stroke:0.25px #fff">23.3.-7.4.</div></div>
<div class="z" style="left:1163.0px;top:873.8px;"><div class="t" style="left:0;top:0;font-size:26.5px;line-height:26.5px;color:#141414;font-weight:normal;transform:scaleX(0.88) translateX(-50%);letter-spacing:0.5px;-webkit-text-stroke:0.25px #fff">30.3.-<span class="one">1<b class="o1" style="background:#fff"></b><b class="o2" style="background:#fff"></b></span><span class="one">1<b class="o1" style="background:#fff"></b><b class="o2" style="background:#fff"></b></span>.4.</div></div>
<div class="z" style="left:71.0px;top:915.3px;"><div class="t" style="left:0;top:0;font-size:26.5px;line-height:26.5px;color:#141414;font-weight:normal;transform:scaleX(0.88) translateX(-50%);letter-spacing:0.5px;-webkit-text-stroke:0.25px #fff"><span class="one">1<b class="o1" style="background:#fff"></b><b class="o2" style="background:#fff"></b></span>5.+26.5.</div></div>
<div class="z" style="left:276.0px;top:915.3px;"><div class="t" style="left:0;top:0;font-size:26.5px;line-height:26.5px;color:#141414;font-weight:normal;transform:scaleX(0.88) translateX(-50%);letter-spacing:0.5px;-webkit-text-stroke:0.25px #fff"><span class="one">1<b class="o1" style="background:#fff"></b><b class="o2" style="background:#fff"></b></span><span class="one">1<b class="o1" style="background:#fff"></b><b class="o2" style="background:#fff"></b></span>.-<span class="one">1<b class="o1" style="background:#fff"></b><b class="o2" style="background:#fff"></b></span>5.5.</div></div>
<div class="z" style="left:484.0px;top:915.3px;"><div class="t" style="left:0;top:0;font-size:26.5px;line-height:26.5px;color:#141414;font-weight:normal;transform:scaleX(0.88) translateX(-50%);letter-spacing:0.5px;-webkit-text-stroke:0.25px #fff">–</div></div>
<div class="z" style="left:719.0px;top:915.3px;"><div class="t" style="left:0;top:0;font-size:26.5px;line-height:26.5px;color:#141414;font-weight:normal;transform:scaleX(0.88) translateX(-50%);letter-spacing:0.5px;-webkit-text-stroke:0.25px #fff"><span class="one">1<b class="o1" style="background:#fff"></b><b class="o2" style="background:#fff"></b></span>5.+22.-26.5.</div></div>
<div class="z" style="left:954.0px;top:915.3px;"><div class="t" style="left:0;top:0;font-size:26.5px;line-height:26.5px;color:#141414;font-weight:normal;transform:scaleX(0.88) translateX(-50%);letter-spacing:0.5px;-webkit-text-stroke:0.25px #fff"><span class="one">1<b class="o1" style="background:#fff"></b><b class="o2" style="background:#fff"></b></span>5.+26.5.</div></div>
<div class="z" style="left:1163.0px;top:915.3px;"><div class="t" style="left:0;top:0;font-size:26.5px;line-height:26.5px;color:#141414;font-weight:normal;transform:scaleX(0.88) translateX(-50%);letter-spacing:0.5px;-webkit-text-stroke:0.25px #fff">26.5.</div></div>
<div class="z" style="left:71.0px;top:956.8px;"><div class="t" style="left:0;top:0;font-size:26.5px;line-height:26.5px;color:#141414;font-weight:normal;transform:scaleX(0.88) translateX(-50%);letter-spacing:0.5px;-webkit-text-stroke:0.25px #fff">2.7.-<span class="one">1<b class="o1" style="background:#fff"></b><b class="o2" style="background:#fff"></b></span>2.8.</div></div>
<div class="z" style="left:276.0px;top:956.8px;"><div class="t" style="left:0;top:0;font-size:26.5px;line-height:26.5px;color:#141414;font-weight:normal;transform:scaleX(0.88) translateX(-50%);letter-spacing:0.5px;-webkit-text-stroke:0.25px #fff">9.7.-<span class="one">1<b class="o1" style="background:#fff"></b><b class="o2" style="background:#fff"></b></span>9.8.</div></div>
<div class="z" style="left:484.0px;top:956.8px;"><div class="t" style="left:0;top:0;font-size:26.5px;line-height:26.5px;color:#141414;font-weight:normal;transform:scaleX(0.88) translateX(-50%);letter-spacing:0.5px;-webkit-text-stroke:0.25px #fff">29.6.-7.8.</div></div>
<div class="z" style="left:719.0px;top:956.8px;"><div class="t" style="left:0;top:0;font-size:26.5px;line-height:26.5px;color:#141414;font-weight:normal;transform:scaleX(0.88) translateX(-50%);letter-spacing:0.5px;-webkit-text-stroke:0.25px #fff"><span class="one">1<b class="o1" style="background:#fff"></b><b class="o2" style="background:#fff"></b></span>3.7.-22.8.</div></div>
<div class="z" style="left:954.0px;top:956.8px;"><div class="t" style="left:0;top:0;font-size:26.5px;line-height:26.5px;color:#141414;font-weight:normal;transform:scaleX(0.88) translateX(-50%);letter-spacing:0.5px;-webkit-text-stroke:0.25px #fff">2.7.-<span class="one">1<b class="o1" style="background:#fff"></b><b class="o2" style="background:#fff"></b></span>2.8.</div></div>
<div class="z" style="left:1163.0px;top:956.8px;"><div class="t" style="left:0;top:0;font-size:26.5px;line-height:26.5px;color:#141414;font-weight:normal;transform:scaleX(0.88) translateX(-50%);letter-spacing:0.5px;-webkit-text-stroke:0.25px #fff">20.7.-<span class="one">1<b class="o1" style="background:#fff"></b><b class="o2" style="background:#fff"></b></span>.9.</div></div>
<div class="z" style="left:71.0px;top:998.3px;"><div class="t" style="left:0;top:0;font-size:26.5px;line-height:26.5px;color:#141414;font-weight:normal;transform:scaleX(0.88) translateX(-50%);letter-spacing:0.5px;-webkit-text-stroke:0.25px #fff"><span class="one">1<b class="o1" style="background:#fff"></b><b class="o2" style="background:#fff"></b></span>2.-24.<span class="one">1<b class="o1" style="background:#fff"></b><b class="o2" style="background:#fff"></b></span>0.</div></div>
<div class="z" style="left:276.0px;top:998.3px;"><div class="t" style="left:0;top:0;font-size:26.5px;line-height:26.5px;color:#141414;font-weight:normal;transform:scaleX(0.88) translateX(-50%);letter-spacing:0.5px;-webkit-text-stroke:0.25px #fff"><span class="one">1<b class="o1" style="background:#fff"></b><b class="o2" style="background:#fff"></b></span>9.-30.<span class="one">1<b class="o1" style="background:#fff"></b><b class="o2" style="background:#fff"></b></span>0.</div></div>
<div class="z" style="left:484.0px;top:998.3px;"><div class="t" style="left:0;top:0;font-size:26.5px;line-height:26.5px;color:#141414;font-weight:normal;transform:scaleX(0.88) translateX(-50%);letter-spacing:0.5px;-webkit-text-stroke:0.25px #fff">5.-<span class="one">1<b class="o1" style="background:#fff"></b><b class="o2" style="background:#fff"></b></span>7.<span class="one">1<b class="o1" style="background:#fff"></b><b class="o2" style="background:#fff"></b></span>0.</div></div>
<div class="z" style="left:719.0px;top:998.3px;"><div class="t" style="left:0;top:0;font-size:26.5px;line-height:26.5px;color:#141414;font-weight:normal;transform:scaleX(0.88) translateX(-50%);letter-spacing:0.5px;-webkit-text-stroke:0.25px #fff"><span class="one">1<b class="o1" style="background:#fff"></b><b class="o2" style="background:#fff"></b></span>9.-24.<span class="one">1<b class="o1" style="background:#fff"></b><b class="o2" style="background:#fff"></b></span>0.+26.-27.<span class="one">1<b class="o1" style="background:#fff"></b><b class="o2" style="background:#fff"></b></span><span class="one">1<b class="o1" style="background:#fff"></b><b class="o2" style="background:#fff"></b></span>.</div></div>
<div class="z" style="left:954.0px;top:998.3px;"><div class="t" style="left:0;top:0;font-size:26.5px;line-height:26.5px;color:#141414;font-weight:normal;transform:scaleX(0.88) translateX(-50%);letter-spacing:0.5px;-webkit-text-stroke:0.25px #fff"><span class="one">1<b class="o1" style="background:#fff"></b><b class="o2" style="background:#fff"></b></span>2.-24.<span class="one">1<b class="o1" style="background:#fff"></b><b class="o2" style="background:#fff"></b></span>0.</div></div>
<div class="z" style="left:1163.0px;top:998.3px;"><div class="t" style="left:0;top:0;font-size:26.5px;line-height:26.5px;color:#141414;font-weight:normal;transform:scaleX(0.88) translateX(-50%);letter-spacing:0.5px;-webkit-text-stroke:0.25px #fff"><span class="one">1<b class="o1" style="background:#fff"></b><b class="o2" style="background:#fff"></b></span>7.-3<span class="one">1<b class="o1" style="background:#fff"></b><b class="o2" style="background:#fff"></b></span>.<span class="one">1<b class="o1" style="background:#fff"></b><b class="o2" style="background:#fff"></b></span>0.</div></div>
<div class="z" style="left:71.0px;top:1039.8px;"><div class="t" style="left:0;top:0;font-size:26.5px;line-height:26.5px;color:#141414;font-weight:normal;transform:scaleX(0.88) translateX(-50%);letter-spacing:0.5px;-webkit-text-stroke:0.25px #fff">23.<span class="one">1<b class="o1" style="background:#fff"></b><b class="o2" style="background:#fff"></b></span>2.-9.<span class="one">1<b class="o1" style="background:#fff"></b><b class="o2" style="background:#fff"></b></span>.</div></div>
<div class="z" style="left:276.0px;top:1039.8px;"><div class="t" style="left:0;top:0;font-size:26.5px;line-height:26.5px;color:#141414;font-weight:normal;transform:scaleX(0.88) translateX(-50%);letter-spacing:0.5px;-webkit-text-stroke:0.25px #fff">2<span class="one">1<b class="o1" style="background:#fff"></b><b class="o2" style="background:#fff"></b></span>.<span class="one">1<b class="o1" style="background:#fff"></b><b class="o2" style="background:#fff"></b></span>2.-<span class="one">1<b class="o1" style="background:#fff"></b><b class="o2" style="background:#fff"></b></span>.<span class="one">1<b class="o1" style="background:#fff"></b><b class="o2" style="background:#fff"></b></span>.</div></div>
<div class="z" style="left:484.0px;top:1039.8px;"><div class="t" style="left:0;top:0;font-size:26.5px;line-height:26.5px;color:#141414;font-weight:normal;transform:scaleX(0.88) translateX(-50%);letter-spacing:0.5px;-webkit-text-stroke:0.25px #fff">23.<span class="one">1<b class="o1" style="background:#fff"></b><b class="o2" style="background:#fff"></b></span>2.-<span class="one">1<b class="o1" style="background:#fff"></b><b class="o2" style="background:#fff"></b></span>2.<span class="one">1<b class="o1" style="background:#fff"></b><b class="o2" style="background:#fff"></b></span>.</div></div>
<div class="z" style="left:719.0px;top:1039.8px;"><div class="t" style="left:0;top:0;font-size:26.5px;line-height:26.5px;color:#141414;font-weight:normal;transform:scaleX(0.88) translateX(-50%);letter-spacing:0.5px;-webkit-text-stroke:0.25px #fff"><span class="one">1<b class="o1" style="background:#fff"></b><b class="o2" style="background:#fff"></b></span>9.<span class="one">1<b class="o1" style="background:#fff"></b><b class="o2" style="background:#fff"></b></span>2.-2.<span class="one">1<b class="o1" style="background:#fff"></b><b class="o2" style="background:#fff"></b></span>.</div></div>
<div class="z" style="left:954.0px;top:1039.8px;"><div class="t" style="left:0;top:0;font-size:26.5px;line-height:26.5px;color:#141414;font-weight:normal;transform:scaleX(0.88) translateX(-50%);letter-spacing:0.5px;-webkit-text-stroke:0.25px #fff">23.<span class="one">1<b class="o1" style="background:#fff"></b><b class="o2" style="background:#fff"></b></span>2.-9.<span class="one">1<b class="o1" style="background:#fff"></b><b class="o2" style="background:#fff"></b></span>.</div></div>
<div class="z" style="left:1163.0px;top:1039.8px;"><div class="t" style="left:0;top:0;font-size:26.5px;line-height:26.5px;color:#141414;font-weight:normal;transform:scaleX(0.88) translateX(-50%);letter-spacing:0.5px;-webkit-text-stroke:0.25px #fff">23.<span class="one">1<b class="o1" style="background:#fff"></b><b class="o2" style="background:#fff"></b></span>2.-6.<span class="one">1<b class="o1" style="background:#fff"></b><b class="o2" style="background:#fff"></b></span>.</div></div>
<div class="t" style="left:779.0px;top:1078.6px;font-size:24.5px;line-height:24.5px;color:#141414;font-weight:normal;transform:scaleX(0.84);-webkit-text-stroke:0.4px #fff">Stand: 02.2025 / Angaben ohne Gewähr</div>
</div>
<div class="circ" style="left:74px;top:1002px;width:758px;height:758px;box-shadow:2px 2px 10px 0px rgba(0,0,0,0.20), 3px 8px 32px 2px rgba(0,0,0,0.36)">
<div class="r" style="left:-544.0px;top:107.7px;width:727.0px;height:2.2px;background:#1b8ecf;"></div>
<div class="r" style="left:-544.0px;top:192.7px;width:727.0px;height:2.2px;background:#1b8ecf;"></div>
<div class="r" style="left:-544.0px;top:22.7px;width:727.0px;height:2.2px;background:#1b8ecf;"></div>
<div class="r" style="left:-544.0px;top:211.4px;width:727.0px;height:62.0px;background:#f4f4f4;"></div>
<div class="r" style="left:215.0px;top:-52.0px;width:727.0px;height:69.7px;background:#e7efd3;"></div>
<div class="r" style="left:215.0px;top:27.0px;width:727.0px;height:82.0px;background:#cfe2b9;"></div>
<div class="r" style="left:215.0px;top:192.7px;width:727.0px;height:2.2px;background:#69b44c;"></div>
<div class="r" style="left:215.0px;top:215.3px;width:727.0px;height:54.1px;background:#f4f4f4;"></div>
<div class="t" style="left:223.0px;top:38.2px;font-size:61.0px;line-height:61.0px;color:#3ea535;font-weight:normal;transform:scaleX(0.84);">30</div>
<div class="t" style="left:294.0px;top:51.1px;font-size:46.0px;line-height:46.0px;color:#3ea535;font-weight:normal;transform:scaleX(0.84);">So</div>
<div class="t" style="left:223.0px;top:123.8px;font-size:61.0px;line-height:61.0px;color:#141414;font-weight:normal;transform:scaleX(0.84);-webkit-text-stroke:0.5px #fff">3<span class="one">1<b class="o1" style="background:#fff"></b><b class="o2" style="background:#fff"></b></span></div>
<div class="t" style="left:294.0px;top:136.7px;font-size:46.0px;line-height:46.0px;color:#141414;font-weight:normal;transform:scaleX(0.84);-webkit-text-stroke:0.4px #fff">Mo</div>
<div class="t" style="left:230.0px;top:223.4px;font-size:40.0px;line-height:40.0px;color:#1e1e1e;font-weight:normal;transform:scaleX(0.8);-webkit-text-stroke:0.5px #f4f4f4">2<span class="one">1<b class="o1" style="background:#f4f4f4"></b><b class="o2" style="background:#f4f4f4"></b></span> Arbeitstage</div>
<div class="t" style="left:294.0px;top:-34.3px;font-size:46.0px;line-height:46.0px;color:#3ea535;font-weight:normal;transform:scaleX(0.84);">Sa</div>
<div class="t" style="left:-194.0px;top:328.6px;font-size:44.0px;line-height:44.0px;color:#8d8d8d;font-weight:bold;transform:scaleX(0.8);">Februar</div>
<div class="t" style="left:-15.3px;top:328.6px;font-size:44.0px;line-height:44.0px;color:#bdbdbd;font-weight:bold;transform:scaleX(0.79);">2027</div>
<div class="z" style="left:-149.0px;top:383.0px;"><div class="t" style="left:0;top:0;font-size:24.0px;line-height:24.0px;color:#111;font-weight:bold;transform:scaleX(1.0) translateX(-50%);">KW</div></div>
<div class="z" style="left:-95.8px;top:383.0px;"><div class="t" style="left:0;top:0;font-size:24.0px;line-height:24.0px;color:#111;font-weight:normal;transform:scaleX(1.0) translateX(-50%);">Mo</div></div>
<div class="z" style="left:-53.5px;top:383.0px;"><div class="t" style="left:0;top:0;font-size:24.0px;line-height:24.0px;color:#111;font-weight:normal;transform:scaleX(1.0) translateX(-50%);">Di</div></div>
<div class="z" style="left:-11.0px;top:383.0px;"><div class="t" style="left:0;top:0;font-size:24.0px;line-height:24.0px;color:#111;font-weight:normal;transform:scaleX(1.0) translateX(-50%);">Mi</div></div>
<div class="z" style="left:33.4px;top:383.0px;"><div class="t" style="left:0;top:0;font-size:24.0px;line-height:24.0px;color:#111;font-weight:normal;transform:scaleX(1.0) translateX(-50%);">Do</div></div>
<div class="z" style="left:76.7px;top:383.0px;"><div class="t" style="left:0;top:0;font-size:24.0px;line-height:24.0px;color:#111;font-weight:normal;transform:scaleX(1.0) translateX(-50%);">Fr</div></div>
<div class="z" style="left:120.0px;top:383.0px;"><div class="t" style="left:0;top:0;font-size:24.0px;line-height:24.0px;color:#111;font-weight:normal;transform:scaleX(1.0) translateX(-50%);">Sa</div></div>
<div class="z" style="left:163.2px;top:383.0px;"><div class="t" style="left:0;top:0;font-size:24.0px;line-height:24.0px;color:#111;font-weight:bold;transform:scaleX(1.0) translateX(-50%);">So</div></div>
<div class="z" style="left:-149.0px;top:423.6px;"><div class="t" style="left:0;top:0;font-size:25.0px;line-height:25.0px;color:#111;font-weight:bold;transform:scaleX(1.0) translateX(-50%);">05</div></div>
<div class="z" style="left:-95.8px;top:423.6px;"><div class="t" style="left:0;top:0;font-size:25.0px;line-height:25.0px;color:#222;font-weight:normal;transform:scaleX(1.0) translateX(-50%);">0<span class="one">1<b class="o1" style="background:#ffffff"></b><b class="o2" style="background:#ffffff"></b></span></div></div>
<div class="z" style="left:-53.5px;top:423.6px;"><div class="t" style="left:0;top:0;font-size:25.0px;line-height:25.0px;color:#222;font-weight:normal;transform:scaleX(1.0) translateX(-50%);">02</div></div>
<div class="z" style="left:-11.0px;top:423.6px;"><div class="t" style="left:0;top:0;font-size:25.0px;line-height:25.0px;color:#222;font-weight:normal;transform:scaleX(1.0) translateX(-50%);">03</div></div>
<div class="z" style="left:33.4px;top:423.6px;"><div class="t" style="left:0;top:0;font-size:25.0px;line-height:25.0px;color:#222;font-weight:normal;transform:scaleX(1.0) translateX(-50%);">04</div></div>
<div class="z" style="left:76.7px;top:423.6px;"><div class="t" style="left:0;top:0;font-size:25.0px;line-height:25.0px;color:#222;font-weight:normal;transform:scaleX(1.0) translateX(-50%);">05</div></div>
<div class="z" style="left:120.0px;top:423.6px;"><div class="t" style="left:0;top:0;font-size:25.0px;line-height:25.0px;color:#222;font-weight:normal;transform:scaleX(1.0) translateX(-50%);">06</div></div>
<div class="z" style="left:163.2px;top:423.6px;"><div class="t" style="left:0;top:0;font-size:25.0px;line-height:25.0px;color:#111;font-weight:bold;transform:scaleX(1.0) translateX(-50%);">07</div></div>
<div class="z" style="left:-149.0px;top:463.4px;"><div class="t" style="left:0;top:0;font-size:25.0px;line-height:25.0px;color:#111;font-weight:bold;transform:scaleX(1.0) translateX(-50%);">06</div></div>
<div class="z" style="left:-95.8px;top:463.4px;"><div class="t" style="left:0;top:0;font-size:25.0px;line-height:25.0px;color:#222;font-weight:normal;transform:scaleX(1.0) translateX(-50%);">08</div></div>
<div class="z" style="left:-53.5px;top:463.4px;"><div class="t" style="left:0;top:0;font-size:25.0px;line-height:25.0px;color:#222;font-weight:normal;transform:scaleX(1.0) translateX(-50%);">09</div></div>
<div class="z" style="left:-11.0px;top:463.4px;"><div class="t" style="left:0;top:0;font-size:25.0px;line-height:25.0px;color:#222;font-weight:normal;transform:scaleX(1.0) translateX(-50%);"><span class="one">1<b class="o1" style="background:#ffffff"></b><b class="o2" style="background:#ffffff"></b></span>0</div></div>
<div class="z" style="left:33.4px;top:463.4px;"><div class="t" style="left:0;top:0;font-size:25.0px;line-height:25.0px;color:#222;font-weight:normal;transform:scaleX(1.0) translateX(-50%);"><span class="one">1<b class="o1" style="background:#ffffff"></b><b class="o2" style="background:#ffffff"></b></span><span class="one">1<b class="o1" style="background:#ffffff"></b><b class="o2" style="background:#ffffff"></b></span></div></div>
<div class="z" style="left:76.7px;top:463.4px;"><div class="t" style="left:0;top:0;font-size:25.0px;line-height:25.0px;color:#222;font-weight:normal;transform:scaleX(1.0) translateX(-50%);"><span class="one">1<b class="o1" style="background:#ffffff"></b><b class="o2" style="background:#ffffff"></b></span>2</div></div>
<div class="z" style="left:120.0px;top:463.4px;"><div class="t" style="left:0;top:0;font-size:25.0px;line-height:25.0px;color:#222;font-weight:normal;transform:scaleX(1.0) translateX(-50%);"><span class="one">1<b class="o1" style="background:#ffffff"></b><b class="o2" style="background:#ffffff"></b></span>3</div></div>
<div class="z" style="left:163.2px;top:463.4px;"><div class="t" style="left:0;top:0;font-size:25.0px;line-height:25.0px;color:#111;font-weight:bold;transform:scaleX(1.0) translateX(-50%);"><span class="one">1<b class="o1b" style="background:#ffffff"></b><b class="o2b" style="background:#ffffff"></b></span>4</div></div>
<div class="z" style="left:-149.0px;top:503.2px;"><div class="t" style="left:0;top:0;font-size:25.0px;line-height:25.0px;color:#111;font-weight:bold;transform:scaleX(1.0) translateX(-50%);">07</div></div>
<div class="z" style="left:-95.8px;top:503.2px;"><div class="t" style="left:0;top:0;font-size:25.0px;line-height:25.0px;color:#222;font-weight:normal;transform:scaleX(1.0) translateX(-50%);"><span class="one">1<b class="o1" style="background:#ffffff"></b><b class="o2" style="background:#ffffff"></b></span>5</div></div>
<div class="z" style="left:-53.5px;top:503.2px;"><div class="t" style="left:0;top:0;font-size:25.0px;line-height:25.0px;color:#222;font-weight:normal;transform:scaleX(1.0) translateX(-50%);"><span class="one">1<b class="o1" style="background:#ffffff"></b><b class="o2" style="background:#ffffff"></b></span>6</div></div>
<div class="z" style="left:-11.0px;top:503.2px;"><div class="t" style="left:0;top:0;font-size:25.0px;line-height:25.0px;color:#222;font-weight:normal;transform:scaleX(1.0) translateX(-50%);"><span class="one">1<b class="o1" style="background:#ffffff"></b><b class="o2" style="background:#ffffff"></b></span>7</div></div>
<div class="z" style="left:33.4px;top:503.2px;"><div class="t" style="left:0;top:0;font-size:25.0px;line-height:25.0px;color:#222;font-weight:normal;transform:scaleX(1.0) translateX(-50%);"><span class="one">1<b class="o1" style="background:#ffffff"></b><b class="o2" style="background:#ffffff"></b></span>8</div></div>
<div class="z" style="left:76.7px;top:503.2px;"><div class="t" style="left:0;top:0;font-size:25.0px;line-height:25.0px;color:#222;font-weight:normal;transform:scaleX(1.0) translateX(-50%);"><span class="one">1<b class="o1" style="background:#ffffff"></b><b class="o2" style="background:#ffffff"></b></span>9</div></div>
<div class="z" style="left:120.0px;top:503.2px;"><div class="t" style="left:0;top:0;font-size:25.0px;line-height:25.0px;color:#222;font-weight:normal;transform:scaleX(1.0) translateX(-50%);">20</div></div>
<div class="z" style="left:163.2px;top:503.2px;"><div class="t" style="left:0;top:0;font-size:25.0px;line-height:25.0px;color:#111;font-weight:bold;transform:scaleX(1.0) translateX(-50%);">2<span class="one">1<b class="o1b" style="background:#ffffff"></b><b class="o2b" style="background:#ffffff"></b></span></div></div>
<div class="z" style="left:-149.0px;top:543.0px;"><div class="t" style="left:0;top:0;font-size:25.0px;line-height:25.0px;color:#111;font-weight:bold;transform:scaleX(1.0) translateX(-50%);">08</div></div>
<div class="z" style="left:-95.8px;top:543.0px;"><div class="t" style="left:0;top:0;font-size:25.0px;line-height:25.0px;color:#222;font-weight:normal;transform:scaleX(1.0) translateX(-50%);">22</div></div>
<div class="z" style="left:-53.5px;top:543.0px;"><div class="t" style="left:0;top:0;font-size:25.0px;line-height:25.0px;color:#222;font-weight:normal;transform:scaleX(1.0) translateX(-50%);">23</div></div>
<div class="z" style="left:-11.0px;top:543.0px;"><div class="t" style="left:0;top:0;font-size:25.0px;line-height:25.0px;color:#222;font-weight:normal;transform:scaleX(1.0) translateX(-50%);">24</div></div>
<div class="z" style="left:33.4px;top:543.0px;"><div class="t" style="left:0;top:0;font-size:25.0px;line-height:25.0px;color:#222;font-weight:normal;transform:scaleX(1.0) translateX(-50%);">25</div></div>
<div class="z" style="left:76.7px;top:543.0px;"><div class="t" style="left:0;top:0;font-size:25.0px;line-height:25.0px;color:#222;font-weight:normal;transform:scaleX(1.0) translateX(-50%);">26</div></div>
<div class="z" style="left:120.0px;top:543.0px;"><div class="t" style="left:0;top:0;font-size:25.0px;line-height:25.0px;color:#222;font-weight:normal;transform:scaleX(1.0) translateX(-50%);">27</div></div>
<div class="z" style="left:163.2px;top:543.0px;"><div class="t" style="left:0;top:0;font-size:25.0px;line-height:25.0px;color:#111;font-weight:bold;transform:scaleX(1.0) translateX(-50%);">28</div></div>
<div class="z" style="left:-149.0px;top:582.8px;"><div class="t" style="left:0;top:0;font-size:25.0px;line-height:25.0px;color:#111;font-weight:bold;transform:scaleX(1.0) translateX(-50%);">09</div></div>
<div class="z" style="left:-95.8px;top:582.8px;"><div class="t" style="left:0;top:0;font-size:25.0px;line-height:25.0px;color:#9a9a9a;font-weight:normal;transform:scaleX(1.0) translateX(-50%);">0<span class="one">1<b class="o1" style="background:#ffffff"></b><b class="o2" style="background:#ffffff"></b></span></div></div>
<div class="z" style="left:-53.5px;top:582.8px;"><div class="t" style="left:0;top:0;font-size:25.0px;line-height:25.0px;color:#9a9a9a;font-weight:normal;transform:scaleX(1.0) translateX(-50%);">02</div></div>
<div class="z" style="left:-11.0px;top:582.8px;"><div class="t" style="left:0;top:0;font-size:25.0px;line-height:25.0px;color:#9a9a9a;font-weight:normal;transform:scaleX(1.0) translateX(-50%);">03</div></div>
<div class="z" style="left:33.4px;top:582.8px;"><div class="t" style="left:0;top:0;font-size:25.0px;line-height:25.0px;color:#9a9a9a;font-weight:normal;transform:scaleX(1.0) translateX(-50%);">04</div></div>
<div class="z" style="left:76.7px;top:582.8px;"><div class="t" style="left:0;top:0;font-size:25.0px;line-height:25.0px;color:#9a9a9a;font-weight:normal;transform:scaleX(1.0) translateX(-50%);">05</div></div>
<div class="z" style="left:120.0px;top:582.8px;"><div class="t" style="left:0;top:0;font-size:25.0px;line-height:25.0px;color:#9a9a9a;font-weight:normal;transform:scaleX(1.0) translateX(-50%);">06</div></div>
<div class="z" style="left:163.2px;top:582.8px;"><div class="t" style="left:0;top:0;font-size:25.0px;line-height:25.0px;color:#9a9a9a;font-weight:normal;transform:scaleX(1.0) translateX(-50%);">07</div></div>
<div class="t" style="left:213.9px;top:328.6px;font-size:44.0px;line-height:44.0px;color:#8d8d8d;font-weight:bold;transform:scaleX(0.85);">März</div>
<div class="t" style="left:311.1px;top:328.6px;font-size:44.0px;line-height:44.0px;color:#bdbdbd;font-weight:bold;transform:scaleX(0.79);">2027</div>
<div class="z" style="left:232.0px;top:383.0px;"><div class="t" style="left:0;top:0;font-size:24.0px;line-height:24.0px;color:#111;font-weight:bold;transform:scaleX(1.0) translateX(-50%);">KW</div></div>
<div class="z" style="left:285.2px;top:383.0px;"><div class="t" style="left:0;top:0;font-size:24.0px;line-height:24.0px;color:#111;font-weight:normal;transform:scaleX(1.0) translateX(-50%);">Mo</div></div>
<div class="z" style="left:327.5px;top:383.0px;"><div class="t" style="left:0;top:0;font-size:24.0px;line-height:24.0px;color:#111;font-weight:normal;transform:scaleX(1.0) translateX(-50%);">Di</div></div>
<div class="z" style="left:370.0px;top:383.0px;"><div class="t" style="left:0;top:0;font-size:24.0px;line-height:24.0px;color:#111;font-weight:normal;transform:scaleX(1.0) translateX(-50%);">Mi</div></div>
<div class="z" style="left:414.4px;top:383.0px;"><div class="t" style="left:0;top:0;font-size:24.0px;line-height:24.0px;color:#111;font-weight:normal;transform:scaleX(1.0) translateX(-50%);">Do</div></div>
<div class="z" style="left:457.7px;top:383.0px;"><div class="t" style="left:0;top:0;font-size:24.0px;line-height:24.0px;color:#111;font-weight:normal;transform:scaleX(1.0) translateX(-50%);">Fr</div></div>
<div class="z" style="left:501.0px;top:383.0px;"><div class="t" style="left:0;top:0;font-size:24.0px;line-height:24.0px;color:#111;font-weight:normal;transform:scaleX(1.0) translateX(-50%);">Sa</div></div>
<div class="z" style="left:544.2px;top:383.0px;"><div class="t" style="left:0;top:0;font-size:24.0px;line-height:24.0px;color:#111;font-weight:bold;transform:scaleX(1.0) translateX(-50%);">So</div></div>
<div class="z" style="left:232.0px;top:423.6px;"><div class="t" style="left:0;top:0;font-size:25.0px;line-height:25.0px;color:#111;font-weight:bold;transform:scaleX(1.0) translateX(-50%);">09</div></div>
<div class="z" style="left:285.2px;top:423.6px;"><div class="t" style="left:0;top:0;font-size:25.0px;line-height:25.0px;color:#222;font-weight:normal;transform:scaleX(1.0) translateX(-50%);">0<span class="one">1<b class="o1" style="background:#ffffff"></b><b class="o2" style="background:#ffffff"></b></span></div></div>
<div class="z" style="left:327.5px;top:423.6px;"><div class="t" style="left:0;top:0;font-size:25.0px;line-height:25.0px;color:#222;font-weight:normal;transform:scaleX(1.0) translateX(-50%);">02</div></div>
<div class="z" style="left:370.0px;top:423.6px;"><div class="t" style="left:0;top:0;font-size:25.0px;line-height:25.0px;color:#222;font-weight:normal;transform:scaleX(1.0) translateX(-50%);">03</div></div>
<div class="z" style="left:414.4px;top:423.6px;"><div class="t" style="left:0;top:0;font-size:25.0px;line-height:25.0px;color:#222;font-weight:normal;transform:scaleX(1.0) translateX(-50%);">04</div></div>
<div class="z" style="left:457.7px;top:423.6px;"><div class="t" style="left:0;top:0;font-size:25.0px;line-height:25.0px;color:#222;font-weight:normal;transform:scaleX(1.0) translateX(-50%);">05</div></div>
<div class="z" style="left:501.0px;top:423.6px;"><div class="t" style="left:0;top:0;font-size:25.0px;line-height:25.0px;color:#222;font-weight:normal;transform:scaleX(1.0) translateX(-50%);">06</div></div>
<div class="z" style="left:544.2px;top:423.6px;"><div class="t" style="left:0;top:0;font-size:25.0px;line-height:25.0px;color:#111;font-weight:bold;transform:scaleX(1.0) translateX(-50%);">07</div></div>
<div class="z" style="left:232.0px;top:463.4px;"><div class="t" style="left:0;top:0;font-size:25.0px;line-height:25.0px;color:#111;font-weight:bold;transform:scaleX(1.0) translateX(-50%);"><span class="one">1<b class="o1b" style="background:#ffffff"></b><b class="o2b" style="background:#ffffff"></b></span>0</div></div>
<div class="z" style="left:285.2px;top:463.4px;"><div class="t" style="left:0;top:0;font-size:25.0px;line-height:25.0px;color:#111;font-weight:bold;transform:scaleX(1.0) translateX(-50%);">08</div></div>
<div class="z" style="left:327.5px;top:463.4px;"><div class="t" style="left:0;top:0;font-size:25.0px;line-height:25.0px;color:#222;font-weight:normal;transform:scaleX(1.0) translateX(-50%);">09</div></div>
<div class="z" style="left:370.0px;top:463.4px;"><div class="t" style="left:0;top:0;font-size:25.0px;line-height:25.0px;color:#222;font-weight:normal;transform:scaleX(1.0) translateX(-50%);"><span class="one">1<b class="o1" style="background:#ffffff"></b><b class="o2" style="background:#ffffff"></b></span>0</div></div>
<div class="z" style="left:414.4px;top:463.4px;"><div class="t" style="left:0;top:0;font-size:25.0px;line-height:25.0px;color:#222;font-weight:normal;transform:scaleX(1.0) translateX(-50%);"><span class="one">1<b class="o1" style="background:#ffffff"></b><b class="o2" style="background:#ffffff"></b></span><span class="one">1<b class="o1" style="background:#ffffff"></b><b class="o2" style="background:#ffffff"></b></span></div></div>
<div class="z" style="left:457.7px;top:463.4px;"><div class="t" style="left:0;top:0;font-size:25.0px;line-height:25.0px;color:#222;font-weight:normal;transform:scaleX(1.0) translateX(-50%);"><span class="one">1<b class="o1" style="background:#ffffff"></b><b class="o2" style="background:#ffffff"></b></span>2</div></div>
<div class="z" style="left:501.0px;top:463.4px;"><div class="t" style="left:0;top:0;font-size:25.0px;line-height:25.0px;color:#222;font-weight:normal;transform:scaleX(1.0) translateX(-50%);"><span class="one">1<b class="o1" style="background:#ffffff"></b><b class="o2" style="background:#ffffff"></b></span>3</div></div>
<div class="z" style="left:544.2px;top:463.4px;"><div class="t" style="left:0;top:0;font-size:25.0px;line-height:25.0px;color:#111;font-weight:bold;transform:scaleX(1.0) translateX(-50%);"><span class="one">1<b class="o1b" style="background:#ffffff"></b><b class="o2b" style="background:#ffffff"></b></span>4</div></div>
<div class="z" style="left:232.0px;top:503.2px;"><div class="t" style="left:0;top:0;font-size:25.0px;line-height:25.0px;color:#111;font-weight:bold;transform:scaleX(1.0) translateX(-50%);"><span class="one">1<b class="o1b" style="background:#ffffff"></b><b class="o2b" style="background:#ffffff"></b></span><span class="one">1<b class="o1b" style="background:#ffffff"></b><b class="o2b" style="background:#ffffff"></b></span></div></div>
<div class="z" style="left:285.2px;top:503.2px;"><div class="t" style="left:0;top:0;font-size:25.0px;line-height:25.0px;color:#222;font-weight:normal;transform:scaleX(1.0) translateX(-50%);"><span class="one">1<b class="o1" style="background:#ffffff"></b><b class="o2" style="background:#ffffff"></b></span>5</div></div>
<div class="z" style="left:327.5px;top:503.2px;"><div class="t" style="left:0;top:0;font-size:25.0px;line-height:25.0px;color:#222;font-weight:normal;transform:scaleX(1.0) translateX(-50%);"><span class="one">1<b class="o1" style="background:#ffffff"></b><b class="o2" style="background:#ffffff"></b></span>6</div></div>
<div class="z" style="left:370.0px;top:503.2px;"><div class="t" style="left:0;top:0;font-size:25.0px;line-height:25.0px;color:#222;font-weight:normal;transform:scaleX(1.0) translateX(-50%);"><span class="one">1<b class="o1" style="background:#ffffff"></b><b class="o2" style="background:#ffffff"></b></span>7</div></div>
<div class="z" style="left:414.4px;top:503.2px;"><div class="t" style="left:0;top:0;font-size:25.0px;line-height:25.0px;color:#222;font-weight:normal;transform:scaleX(1.0) translateX(-50%);"><span class="one">1<b class="o1" style="background:#ffffff"></b><b class="o2" style="background:#ffffff"></b></span>8</div></div>
<div class="z" style="left:457.7px;top:503.2px;"><div class="t" style="left:0;top:0;font-size:25.0px;line-height:25.0px;color:#222;font-weight:normal;transform:scaleX(1.0) translateX(-50%);"><span class="one">1<b class="o1" style="background:#ffffff"></b><b class="o2" style="background:#ffffff"></b></span>9</div></div>
<div class="z" style="left:501.0px;top:503.2px;"><div class="t" style="left:0;top:0;font-size:25.0px;line-height:25.0px;color:#222;font-weight:normal;transform:scaleX(1.0) translateX(-50%);">20</div></div>
<div class="z" style="left:544.2px;top:503.2px;"><div class="t" style="left:0;top:0;font-size:25.0px;line-height:25.0px;color:#111;font-weight:bold;transform:scaleX(1.0) translateX(-50%);">2<span class="one">1<b class="o1b" style="background:#ffffff"></b><b class="o2b" style="background:#ffffff"></b></span></div></div>
<div class="z" style="left:232.0px;top:543.0px;"><div class="t" style="left:0;top:0;font-size:25.0px;line-height:25.0px;color:#111;font-weight:bold;transform:scaleX(1.0) translateX(-50%);"><span class="one">1<b class="o1b" style="background:#ffffff"></b><b class="o2b" style="background:#ffffff"></b></span>2</div></div>
<div class="z" style="left:285.2px;top:543.0px;"><div class="t" style="left:0;top:0;font-size:25.0px;line-height:25.0px;color:#222;font-weight:normal;transform:scaleX(1.0) translateX(-50%);">22</div></div>
<div class="z" style="left:327.5px;top:543.0px;"><div class="t" style="left:0;top:0;font-size:25.0px;line-height:25.0px;color:#222;font-weight:normal;transform:scaleX(1.0) translateX(-50%);">23</div></div>
<div class="z" style="left:370.0px;top:543.0px;"><div class="t" style="left:0;top:0;font-size:25.0px;line-height:25.0px;color:#222;font-weight:normal;transform:scaleX(1.0) translateX(-50%);">24</div></div>
<div class="z" style="left:414.4px;top:543.0px;"><div class="t" style="left:0;top:0;font-size:25.0px;line-height:25.0px;color:#222;font-weight:normal;transform:scaleX(1.0) translateX(-50%);">25</div></div>
<div class="z" style="left:457.7px;top:543.0px;"><div class="t" style="left:0;top:0;font-size:25.0px;line-height:25.0px;color:#111;font-weight:bold;transform:scaleX(1.0) translateX(-50%);">26</div></div>
<div class="z" style="left:501.0px;top:543.0px;"><div class="t" style="left:0;top:0;font-size:25.0px;line-height:25.0px;color:#222;font-weight:normal;transform:scaleX(1.0) translateX(-50%);">27</div></div>
<div class="z" style="left:544.2px;top:543.0px;"><div class="t" style="left:0;top:0;font-size:25.0px;line-height:25.0px;color:#111;font-weight:bold;transform:scaleX(1.0) translateX(-50%);">28</div></div>
<div class="z" style="left:232.0px;top:582.8px;"><div class="t" style="left:0;top:0;font-size:25.0px;line-height:25.0px;color:#111;font-weight:bold;transform:scaleX(1.0) translateX(-50%);"><span class="one">1<b class="o1b" style="background:#ffffff"></b><b class="o2b" style="background:#ffffff"></b></span>3</div></div>
<div class="z" style="left:285.2px;top:582.8px;"><div class="t" style="left:0;top:0;font-size:25.0px;line-height:25.0px;color:#111;font-weight:bold;transform:scaleX(1.0) translateX(-50%);">29</div></div>
<div class="z" style="left:327.5px;top:582.8px;"><div class="t" style="left:0;top:0;font-size:25.0px;line-height:25.0px;color:#222;font-weight:normal;transform:scaleX(1.0) translateX(-50%);">30</div></div>
<div class="z" style="left:370.0px;top:582.8px;"><div class="t" style="left:0;top:0;font-size:25.0px;line-height:25.0px;color:#222;font-weight:normal;transform:scaleX(1.0) translateX(-50%);">3<span class="one">1<b class="o1" style="background:#ffffff"></b><b class="o2" style="background:#ffffff"></b></span></div></div>
<div class="z" style="left:414.4px;top:582.8px;"><div class="t" style="left:0;top:0;font-size:25.0px;line-height:25.0px;color:#9a9a9a;font-weight:normal;transform:scaleX(1.0) translateX(-50%);">0<span class="one">1<b class="o1" style="background:#ffffff"></b><b class="o2" style="background:#ffffff"></b></span></div></div>
<div class="z" style="left:457.7px;top:582.8px;"><div class="t" style="left:0;top:0;font-size:25.0px;line-height:25.0px;color:#9a9a9a;font-weight:normal;transform:scaleX(1.0) translateX(-50%);">02</div></div>
<div class="z" style="left:501.0px;top:582.8px;"><div class="t" style="left:0;top:0;font-size:25.0px;line-height:25.0px;color:#9a9a9a;font-weight:normal;transform:scaleX(1.0) translateX(-50%);">03</div></div>
<div class="z" style="left:544.2px;top:582.8px;"><div class="t" style="left:0;top:0;font-size:25.0px;line-height:25.0px;color:#9a9a9a;font-weight:normal;transform:scaleX(1.0) translateX(-50%);">04</div></div>
<div class="t" style="left:597.5px;top:328.6px;font-size:44.0px;line-height:44.0px;color:#8d8d8d;font-weight:bold;transform:scaleX(0.81);">April</div>
<div class="t" style="left:688.2px;top:328.6px;font-size:44.0px;line-height:44.0px;color:#bdbdbd;font-weight:bold;transform:scaleX(0.79);">2027</div>
<div class="z" style="left:612.0px;top:383.0px;"><div class="t" style="left:0;top:0;font-size:24.0px;line-height:24.0px;color:#111;font-weight:bold;transform:scaleX(1.0) translateX(-50%);">KW</div></div>
<div class="z" style="left:665.2px;top:383.0px;"><div class="t" style="left:0;top:0;font-size:24.0px;line-height:24.0px;color:#111;font-weight:normal;transform:scaleX(1.0) translateX(-50%);">Mo</div></div>
<div class="z" style="left:707.5px;top:383.0px;"><div class="t" style="left:0;top:0;font-size:24.0px;line-height:24.0px;color:#111;font-weight:normal;transform:scaleX(1.0) translateX(-50%);">Di</div></div>
<div class="z" style="left:750.0px;top:383.0px;"><div class="t" style="left:0;top:0;font-size:24.0px;line-height:24.0px;color:#111;font-weight:normal;transform:scaleX(1.0) translateX(-50%);">Mi</div></div>
<div class="z" style="left:794.4px;top:383.0px;"><div class="t" style="left:0;top:0;font-size:24.0px;line-height:24.0px;color:#111;font-weight:normal;transform:scaleX(1.0) translateX(-50%);">Do</div></div>
<div class="z" style="left:837.7px;top:383.0px;"><div class="t" style="left:0;top:0;font-size:24.0px;line-height:24.0px;color:#111;font-weight:normal;transform:scaleX(1.0) translateX(-50%);">Fr</div></div>
<div class="z" style="left:881.0px;top:383.0px;"><div class="t" style="left:0;top:0;font-size:24.0px;line-height:24.0px;color:#111;font-weight:normal;transform:scaleX(1.0) translateX(-50%);">Sa</div></div>
<div class="z" style="left:924.2px;top:383.0px;"><div class="t" style="left:0;top:0;font-size:24.0px;line-height:24.0px;color:#111;font-weight:bold;transform:scaleX(1.0) translateX(-50%);">So</div></div>
<div class="z" style="left:612.0px;top:423.6px;"><div class="t" style="left:0;top:0;font-size:25.0px;line-height:25.0px;color:#111;font-weight:bold;transform:scaleX(1.0) translateX(-50%);"><span class="one">1<b class="o1b" style="background:#ffffff"></b><b class="o2b" style="background:#ffffff"></b></span>3</div></div>
<div class="z" style="left:665.2px;top:423.6px;"><div class="t" style="left:0;top:0;font-size:25.0px;line-height:25.0px;color:#9a9a9a;font-weight:normal;transform:scaleX(1.0) translateX(-50%);">29</div></div>
<div class="z" style="left:707.5px;top:423.6px;"><div class="t" style="left:0;top:0;font-size:25.0px;line-height:25.0px;color:#9a9a9a;font-weight:normal;transform:scaleX(1.0) translateX(-50%);">30</div></div>
<div class="z" style="left:750.0px;top:423.6px;"><div class="t" style="left:0;top:0;font-size:25.0px;line-height:25.0px;color:#9a9a9a;font-weight:normal;transform:scaleX(1.0) translateX(-50%);">3<span class="one">1<b class="o1" style="background:#ffffff"></b><b class="o2" style="background:#ffffff"></b></span></div></div>
<div class="z" style="left:794.4px;top:423.6px;"><div class="t" style="left:0;top:0;font-size:25.0px;line-height:25.0px;color:#222;font-weight:normal;transform:scaleX(1.0) translateX(-50%);">0<span class="one">1<b class="o1" style="background:#ffffff"></b><b class="o2" style="background:#ffffff"></b></span></div></div>
<div class="z" style="left:837.7px;top:423.6px;"><div class="t" style="left:0;top:0;font-size:25.0px;line-height:25.0px;color:#222;font-weight:normal;transform:scaleX(1.0) translateX(-50%);">02</div></div>
<div class="z" style="left:881.0px;top:423.6px;"><div class="t" style="left:0;top:0;font-size:25.0px;line-height:25.0px;color:#222;font-weight:normal;transform:scaleX(1.0) translateX(-50%);">03</div></div>
<div class="z" style="left:924.2px;top:423.6px;"><div class="t" style="left:0;top:0;font-size:25.0px;line-height:25.0px;color:#111;font-weight:bold;transform:scaleX(1.0) translateX(-50%);">04</div></div>
<div class="z" style="left:612.0px;top:463.4px;"><div class="t" style="left:0;top:0;font-size:25.0px;line-height:25.0px;color:#111;font-weight:bold;transform:scaleX(1.0) translateX(-50%);"><span class="one">1<b class="o1b" style="background:#ffffff"></b><b class="o2b" style="background:#ffffff"></b></span>4</div></div>
<div class="z" style="left:665.2px;top:463.4px;"><div class="t" style="left:0;top:0;font-size:25.0px;line-height:25.0px;color:#222;font-weight:normal;transform:scaleX(1.0) translateX(-50%);">05</div></div>
<div class="z" style="left:707.5px;top:463.4px;"><div class="t" style="left:0;top:0;font-size:25.0px;line-height:25.0px;color:#222;font-weight:normal;transform:scaleX(1.0) translateX(-50%);">06</div></div>
<div class="z" style="left:750.0px;top:463.4px;"><div class="t" style="left:0;top:0;font-size:25.0px;line-height:25.0px;color:#222;font-weight:normal;transform:scaleX(1.0) translateX(-50%);">07</div></div>
<div class="z" style="left:794.4px;top:463.4px;"><div class="t" style="left:0;top:0;font-size:25.0px;line-height:25.0px;color:#222;font-weight:normal;transform:scaleX(1.0) translateX(-50%);">08</div></div>
<div class="z" style="left:837.7px;top:463.4px;"><div class="t" style="left:0;top:0;font-size:25.0px;line-height:25.0px;color:#222;font-weight:normal;transform:scaleX(1.0) translateX(-50%);">09</div></div>
<div class="z" style="left:881.0px;top:463.4px;"><div class="t" style="left:0;top:0;font-size:25.0px;line-height:25.0px;color:#222;font-weight:normal;transform:scaleX(1.0) translateX(-50%);"><span class="one">1<b class="o1" style="background:#ffffff"></b><b class="o2" style="background:#ffffff"></b></span>0</div></div>
<div class="z" style="left:924.2px;top:463.4px;"><div class="t" style="left:0;top:0;font-size:25.0px;line-height:25.0px;color:#111;font-weight:bold;transform:scaleX(1.0) translateX(-50%);"><span class="one">1<b class="o1b" style="background:#ffffff"></b><b class="o2b" style="background:#ffffff"></b></span><span class="one">1<b class="o1b" style="background:#ffffff"></b><b class="o2b" style="background:#ffffff"></b></span></div></div>
<div class="z" style="left:612.0px;top:503.2px;"><div class="t" style="left:0;top:0;font-size:25.0px;line-height:25.0px;color:#111;font-weight:bold;transform:scaleX(1.0) translateX(-50%);"><span class="one">1<b class="o1b" style="background:#ffffff"></b><b class="o2b" style="background:#ffffff"></b></span>5</div></div>
<div class="z" style="left:665.2px;top:503.2px;"><div class="t" style="left:0;top:0;font-size:25.0px;line-height:25.0px;color:#222;font-weight:normal;transform:scaleX(1.0) translateX(-50%);"><span class="one">1<b class="o1" style="background:#ffffff"></b><b class="o2" style="background:#ffffff"></b></span>2</div></div>
<div class="z" style="left:707.5px;top:503.2px;"><div class="t" style="left:0;top:0;font-size:25.0px;line-height:25.0px;color:#222;font-weight:normal;transform:scaleX(1.0) translateX(-50%);"><span class="one">1<b class="o1" style="background:#ffffff"></b><b class="o2" style="background:#ffffff"></b></span>3</div></div>
<div class="z" style="left:750.0px;top:503.2px;"><div class="t" style="left:0;top:0;font-size:25.0px;line-height:25.0px;color:#222;font-weight:normal;transform:scaleX(1.0) translateX(-50%);"><span class="one">1<b class="o1" style="background:#ffffff"></b><b class="o2" style="background:#ffffff"></b></span>4</div></div>
<div class="z" style="left:794.4px;top:503.2px;"><div class="t" style="left:0;top:0;font-size:25.0px;line-height:25.0px;color:#222;font-weight:normal;transform:scaleX(1.0) translateX(-50%);"><span class="one">1<b class="o1" style="background:#ffffff"></b><b class="o2" style="background:#ffffff"></b></span>5</div></div>
<div class="z" style="left:837.7px;top:503.2px;"><div class="t" style="left:0;top:0;font-size:25.0px;line-height:25.0px;color:#222;font-weight:normal;transform:scaleX(1.0) translateX(-50%);"><span class="one">1<b class="o1" style="background:#ffffff"></b><b class="o2" style="background:#ffffff"></b></span>6</div></div>
<div class="z" style="left:881.0px;top:503.2px;"><div class="t" style="left:0;top:0;font-size:25.0px;line-height:25.0px;color:#222;font-weight:normal;transform:scaleX(1.0) translateX(-50%);"><span class="one">1<b class="o1" style="background:#ffffff"></b><b class="o2" style="background:#ffffff"></b></span>7</div></div>
<div class="z" style="left:924.2px;top:503.2px;"><div class="t" style="left:0;top:0;font-size:25.0px;line-height:25.0px;color:#111;font-weight:bold;transform:scaleX(1.0) translateX(-50%);"><span class="one">1<b class="o1b" style="background:#ffffff"></b><b class="o2b" style="background:#ffffff"></b></span>8</div></div>
<div class="z" style="left:612.0px;top:543.0px;"><div class="t" style="left:0;top:0;font-size:25.0px;line-height:25.0px;color:#111;font-weight:bold;transform:scaleX(1.0) translateX(-50%);"><span class="one">1<b class="o1b" style="background:#ffffff"></b><b class="o2b" style="background:#ffffff"></b></span>6</div></div>
<div class="z" style="left:665.2px;top:543.0px;"><div class="t" style="left:0;top:0;font-size:25.0px;line-height:25.0px;color:#222;font-weight:normal;transform:scaleX(1.0) translateX(-50%);"><span class="one">1<b class="o1" style="background:#ffffff"></b><b class="o2" style="background:#ffffff"></b></span>9</div></div>
<div class="z" style="left:707.5px;top:543.0px;"><div class="t" style="left:0;top:0;font-size:25.0px;line-height:25.0px;color:#222;font-weight:normal;transform:scaleX(1.0) translateX(-50%);">20</div></div>
<div class="z" style="left:750.0px;top:543.0px;"><div class="t" style="left:0;top:0;font-size:25.0px;line-height:25.0px;color:#222;font-weight:normal;transform:scaleX(1.0) translateX(-50%);">2<span class="one">1<b class="o1" style="background:#ffffff"></b><b class="o2" style="background:#ffffff"></b></span></div></div>
<div class="z" style="left:794.4px;top:543.0px;"><div class="t" style="left:0;top:0;font-size:25.0px;line-height:25.0px;color:#222;font-weight:normal;transform:scaleX(1.0) translateX(-50%);">22</div></div>
<div class="z" style="left:837.7px;top:543.0px;"><div class="t" style="left:0;top:0;font-size:25.0px;line-height:25.0px;color:#222;font-weight:normal;transform:scaleX(1.0) translateX(-50%);">23</div></div>
<div class="z" style="left:881.0px;top:543.0px;"><div class="t" style="left:0;top:0;font-size:25.0px;line-height:25.0px;color:#222;font-weight:normal;transform:scaleX(1.0) translateX(-50%);">24</div></div>
<div class="z" style="left:924.2px;top:543.0px;"><div class="t" style="left:0;top:0;font-size:25.0px;line-height:25.0px;color:#111;font-weight:bold;transform:scaleX(1.0) translateX(-50%);">25</div></div>
<div class="z" style="left:612.0px;top:582.8px;"><div class="t" style="left:0;top:0;font-size:25.0px;line-height:25.0px;color:#111;font-weight:bold;transform:scaleX(1.0) translateX(-50%);"><span class="one">1<b class="o1b" style="background:#ffffff"></b><b class="o2b" style="background:#ffffff"></b></span>7</div></div>
<div class="z" style="left:665.2px;top:582.8px;"><div class="t" style="left:0;top:0;font-size:25.0px;line-height:25.0px;color:#222;font-weight:normal;transform:scaleX(1.0) translateX(-50%);">26</div></div>
<div class="z" style="left:707.5px;top:582.8px;"><div class="t" style="left:0;top:0;font-size:25.0px;line-height:25.0px;color:#222;font-weight:normal;transform:scaleX(1.0) translateX(-50%);">27</div></div>
<div class="z" style="left:750.0px;top:582.8px;"><div class="t" style="left:0;top:0;font-size:25.0px;line-height:25.0px;color:#222;font-weight:normal;transform:scaleX(1.0) translateX(-50%);">28</div></div>
<div class="z" style="left:794.4px;top:582.8px;"><div class="t" style="left:0;top:0;font-size:25.0px;line-height:25.0px;color:#222;font-weight:normal;transform:scaleX(1.0) translateX(-50%);">29</div></div>
<div class="z" style="left:837.7px;top:582.8px;"><div class="t" style="left:0;top:0;font-size:25.0px;line-height:25.0px;color:#222;font-weight:normal;transform:scaleX(1.0) translateX(-50%);">30</div></div>
<div class="z" style="left:881.0px;top:582.8px;"><div class="t" style="left:0;top:0;font-size:25.0px;line-height:25.0px;color:#9a9a9a;font-weight:normal;transform:scaleX(1.0) translateX(-50%);">0<span class="one">1<b class="o1" style="background:#ffffff"></b><b class="o2" style="background:#ffffff"></b></span></div></div>
<div class="z" style="left:924.2px;top:582.8px;"><div class="t" style="left:0;top:0;font-size:25.0px;line-height:25.0px;color:#9a9a9a;font-weight:normal;transform:scaleX(1.0) translateX(-50%);">02</div></div>
</div>
<div class="banner">
<div class="t" style="left:284.2px;top:86.8px;font-size:83.0px;line-height:83.0px;color:#ffffff;font-weight:normal;transform:scaleX(0.798);-webkit-text-stroke:0.9px #fff">Übersichtliches</div>
<div class="t" style="left:752.7px;top:86.8px;font-size:83.0px;line-height:83.0px;color:#ffffff;font-weight:normal;transform:scaleX(0.756);-webkit-text-stroke:0.9px #fff">Design</div>
<div class="t" style="left:1020.4px;top:86.8px;font-size:83.0px;line-height:83.0px;color:#ffffff;font-weight:normal;transform:scaleX(0.805);-webkit-text-stroke:0.9px #fff">Ferienübersicht</div>
<div class="t" style="left:1510.2px;top:86.8px;font-size:83.0px;line-height:83.0px;color:#ffffff;font-weight:normal;transform:scaleX(0.842);-webkit-text-stroke:0.9px #fff">für</div>
<div class="t" style="left:1611.8px;top:86.8px;font-size:83.0px;line-height:83.0px;color:#ffffff;font-weight:normal;transform:scaleX(0.793);-webkit-text-stroke:0.9px #fff">alle</div>
<div class="t" style="left:210.2px;top:186.2px;font-size:83.0px;line-height:83.0px;color:#ffffff;font-weight:normal;transform:scaleX(0.786);-webkit-text-stroke:0.9px #fff">Bundesländer</div>
<div class="t" style="left:686.3px;top:186.2px;font-size:83.0px;line-height:83.0px;color:#ffffff;font-weight:normal;transform:scaleX(0.811);-webkit-text-stroke:0.9px #fff">Monatliche</div>
<div class="t" style="left:1031.4px;top:186.2px;font-size:83.0px;line-height:83.0px;color:#ffffff;font-weight:normal;transform:scaleX(0.805);-webkit-text-stroke:0.9px #fff">Mini-Vorschauen</div>
<div class="t" style="left:1550.1px;top:186.2px;font-size:83.0px;line-height:83.0px;color:#ffffff;font-weight:normal;transform:scaleX(0.87);-webkit-text-stroke:0.9px #fff">für</div>
<div class="t" style="left:1656.0px;top:186.2px;font-size:83.0px;line-height:83.0px;color:#ffffff;font-weight:normal;transform:scaleX(0.739);-webkit-text-stroke:0.9px #fff">2027</div>
<div class="r" style="left:974.0px;top:127.2px;width:16.6px;height:16.6px;border-radius:50%;background:#fff"></div>
<div class="r" style="left:642.3px;top:225.7px;width:16.6px;height:16.6px;border-radius:50%;background:#fff"></div>
</div>
</body></html>
